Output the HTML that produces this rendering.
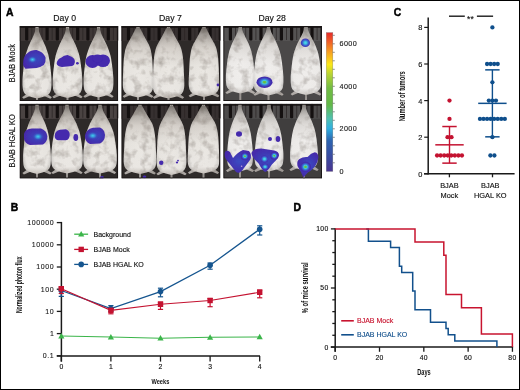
<!DOCTYPE html><html><head><meta charset="utf-8"><style>html,body{margin:0;padding:0;background:#fff}body{width:520px;height:390px;overflow:hidden}svg{display:block;will-change:transform}text{font-family:"Liberation Sans", sans-serif}</style></head><body>
<svg width="520" height="390" viewBox="0 0 520 390">
<defs>
<linearGradient id="cbar" x1="0" y1="1" x2="0" y2="0">
<stop offset="0" stop-color="#4a3590"/>
<stop offset="0.1" stop-color="#3b4aa0"/>
<stop offset="0.22" stop-color="#2d64b0"/>
<stop offset="0.31" stop-color="#30b0e0"/>
<stop offset="0.38" stop-color="#50c0b0"/>
<stop offset="0.48" stop-color="#62b848"/>
<stop offset="0.6" stop-color="#72bc44"/>
<stop offset="0.7" stop-color="#b8d435"/>
<stop offset="0.77" stop-color="#fbe818"/>
<stop offset="0.86" stop-color="#f7a022"/>
<stop offset="0.94" stop-color="#ef5a28"/>
<stop offset="1" stop-color="#e52a2a"/>
</linearGradient>
<linearGradient id="mouseg" x1="0" y1="0" x2="0" y2="1">
<stop offset="0" stop-color="#8f8983"/>
<stop offset="0.1" stop-color="#b0aaa4"/>
<stop offset="0.3" stop-color="#d8d3cd"/>
<stop offset="0.55" stop-color="#e9e6e1"/>
<stop offset="0.9" stop-color="#edeae6"/>
<stop offset="1" stop-color="#cac4be"/>
</linearGradient>
<linearGradient id="mouseg2" x1="0" y1="0" x2="0" y2="1">
<stop offset="0" stop-color="#9a9692"/>
<stop offset="0.1" stop-color="#bdb9b5"/>
<stop offset="0.3" stop-color="#e0ddda"/>
<stop offset="0.55" stop-color="#efedeb"/>
<stop offset="0.9" stop-color="#f1efed"/>
<stop offset="1" stop-color="#d0ccc8"/>
</linearGradient>
<radialGradient id="mouseedge" cx="0.5" cy="0.6" r="0.62">
<stop offset="0" stop-color="#000" stop-opacity="0"/>
<stop offset="0.7" stop-color="#000" stop-opacity="0.02"/>
<stop offset="1" stop-color="#000" stop-opacity="0.2"/>
</radialGradient>
<linearGradient id="stripes" x1="0" y1="0" x2="0" y2="1">
<stop offset="0" stop-color="#000" stop-opacity="0"/>
<stop offset="1" stop-color="#000" stop-opacity="0"/>
</linearGradient>
<radialGradient id="blobspot" cx="0.5" cy="0.5" r="0.5">
<stop offset="0" stop-color="#40d0e8"/>
<stop offset="0.22" stop-color="#3aa0e0"/>
<stop offset="0.55" stop-color="#3a50c0"/>
<stop offset="1" stop-color="#4429ad" stop-opacity="0"/>
</radialGradient>
<radialGradient id="bfill" cx="0.55" cy="0.5" r="0.55">
<stop offset="0" stop-color="#3a4cc2"/>
<stop offset="0.55" stop-color="#4038b4"/>
<stop offset="1" stop-color="#4629aa"/>
</radialGradient>
<radialGradient id="glow" cx="0.5" cy="0.5" r="0.5">
<stop offset="0" stop-color="#3660cc" stop-opacity="0.85"/>
<stop offset="0.6" stop-color="#3a50c0" stop-opacity="0.45"/>
<stop offset="1" stop-color="#4429ad" stop-opacity="0"/>
</radialGradient>
<radialGradient id="blob" cx="0.5" cy="0.5" r="0.5">
<stop offset="0" stop-color="#50e0e8"/>
<stop offset="0.3" stop-color="#40c0e0"/>
<stop offset="0.6" stop-color="#3a6ad0"/>
<stop offset="1" stop-color="#4429ad"/>
</radialGradient>
<radialGradient id="blobg" cx="0.5" cy="0.5" r="0.5">
<stop offset="0" stop-color="#5cb840"/>
<stop offset="0.18" stop-color="#6cc450"/>
<stop offset="0.3" stop-color="#40c8e0"/>
<stop offset="0.55" stop-color="#3a6ad0"/>
<stop offset="0.8" stop-color="#4030b0"/>
<stop offset="1" stop-color="#4429ad"/>
</radialGradient>
<filter id="soft" x="-5%" y="-5%" width="110%" height="110%"><feGaussianBlur stdDeviation="0.6"/></filter>
<filter id="tex" x="-5%" y="-5%" width="110%" height="110%" color-interpolation-filters="sRGB">
<feTurbulence type="fractalNoise" baseFrequency="0.12" numOctaves="3" seed="11" result="n"/>
<feColorMatrix in="n" type="matrix" values="0 0 0 0 0.32  0 0 0 0 0.28  0 0 0 0 0.25  0 0 0 -0.75 0.4" result="na"/>
<feComposite in="na" in2="SourceGraphic" operator="in" result="shade"/>
<feMerge result="m"><feMergeNode in="SourceGraphic"/><feMergeNode in="shade"/></feMerge>
<feGaussianBlur in="m" stdDeviation="0.55"/>
</filter>
<filter id="soft2" x="-10%" y="-10%" width="120%" height="120%"><feGaussianBlur stdDeviation="0.9"/></filter>
<clipPath id="c00"><rect x="19.6" y="26" width="98.6" height="75"/></clipPath>
<clipPath id="c10"><rect x="121.4" y="26" width="99" height="75"/></clipPath>
<clipPath id="c20"><rect x="223.3" y="26" width="98.7" height="75"/></clipPath>
<clipPath id="c01"><rect x="19.6" y="103.8" width="98.6" height="74.7"/></clipPath>
<clipPath id="c11"><rect x="121.4" y="103.8" width="99" height="74.7"/></clipPath>
<clipPath id="c21"><rect x="223.3" y="103.8" width="98.7" height="74.7"/></clipPath>
</defs>
<rect x="0.5" y="0.5" width="519" height="389" fill="#fff" stroke="#000" stroke-width="1"/>
<text x="5.90" y="15.60" font-size="10.40" text-anchor="start" fill="#000" font-weight="bold" stroke="#000" stroke-width="0.45" >A</text>
<text x="64.70" y="21.10" font-size="8.70" text-anchor="middle" fill="#111" font-weight="normal" stroke="#111" stroke-width="0.14" >Day 0</text>
<text x="170.40" y="21.10" font-size="8.70" text-anchor="middle" fill="#111" font-weight="normal" stroke="#111" stroke-width="0.14" >Day 7</text>
<text x="272.20" y="21.10" font-size="8.70" text-anchor="middle" fill="#111" font-weight="normal" stroke="#111" stroke-width="0.14" >Day 28</text>
<text transform="translate(15.0,63.2) rotate(-90) scale(0.9,1)" font-size="8.2" text-anchor="middle" fill="#111" stroke="#111" stroke-width="0.14">BJAB Mock</text>
<text transform="translate(15.0,140.9) rotate(-90) scale(0.9,1)" font-size="8.2" text-anchor="middle" fill="#111" stroke="#111" stroke-width="0.14">BJAB HGAL KO</text>
<g clip-path="url(#c00)">
<rect x="19.6" y="26.0" width="98.6" height="75.0" fill="#2e2a29"/>
<rect x="19.6" y="26.0" width="98.6" height="15" fill="#3e3736"/>
<rect x="25.1" y="26.0" width="3.2" height="14.5" rx="1" fill="#141010"/>
<rect x="31.3" y="26.0" width="1" height="14" fill="#2a2424" opacity="0.7"/>
<rect x="35.3" y="26.0" width="3.2" height="14.5" rx="1" fill="#141010"/>
<rect x="41.5" y="26.0" width="1" height="14" fill="#2a2424" opacity="0.7"/>
<rect x="45.5" y="26.0" width="3.2" height="14.5" rx="1" fill="#141010"/>
<rect x="51.7" y="26.0" width="1" height="14" fill="#2a2424" opacity="0.7"/>
<rect x="55.7" y="26.0" width="3.2" height="14.5" rx="1" fill="#141010"/>
<rect x="61.9" y="26.0" width="1" height="14" fill="#2a2424" opacity="0.7"/>
<rect x="65.9" y="26.0" width="3.2" height="14.5" rx="1" fill="#141010"/>
<rect x="72.1" y="26.0" width="1" height="14" fill="#2a2424" opacity="0.7"/>
<rect x="76.1" y="26.0" width="3.2" height="14.5" rx="1" fill="#141010"/>
<rect x="82.3" y="26.0" width="1" height="14" fill="#2a2424" opacity="0.7"/>
<rect x="86.3" y="26.0" width="3.2" height="14.5" rx="1" fill="#141010"/>
<rect x="92.5" y="26.0" width="1" height="14" fill="#2a2424" opacity="0.7"/>
<rect x="96.5" y="26.0" width="3.2" height="14.5" rx="1" fill="#141010"/>
<rect x="102.7" y="26.0" width="1" height="14" fill="#2a2424" opacity="0.7"/>
<rect x="106.7" y="26.0" width="3.2" height="14.5" rx="1" fill="#141010"/>
<rect x="112.9" y="26.0" width="1" height="14" fill="#2a2424" opacity="0.7"/>
<rect x="116.9" y="26.0" width="3.2" height="14.5" rx="1" fill="#141010"/>
<rect x="123.1" y="26.0" width="1" height="14" fill="#2a2424" opacity="0.7"/>
<rect x="19.6" y="26.0" width="98.6" height="2" fill="#141010" opacity="0.8"/>
<g filter="url(#tex)">
<rect x="35.4" y="26.0" width="3.2" height="6.0" fill="#aaa5a0"/>
<rect x="36.0" y="95.0" width="2" height="12" fill="#9a9592"/>
<path d="M29.1,92.2 l-7,5 l1.5,1.5 l7,-3 Z" fill="#b0aba7"/>
<path d="M44.9,92.2 l7,5 l-1.5,1.5 l-7,-3 Z" fill="#b0aba7"/>
<path d="M37.0,27.6 L37.1,27.8 L37.3,27.9 L37.6,28.1 L37.8,28.3 L38.1,28.6 L38.3,29.0 L38.5,29.4 L38.6,30.0 L38.8,30.6 L39.0,31.2 L39.1,31.8 L39.3,32.4 L39.5,32.9 L39.7,33.5 L39.9,34.0 L40.1,34.5 L40.3,35.1 L40.6,35.8 L41.0,36.6 L41.4,37.5 L41.8,38.4 L42.3,39.4 L42.8,40.3 L43.2,41.2 L43.6,42.1 L44.0,42.9 L44.3,43.7 L44.7,44.4 L45.0,45.2 L45.4,46.0 L45.7,46.8 L46.0,47.6 L46.3,48.4 L46.5,49.2 L46.8,50.0 L47.1,50.8 L47.3,51.5 L47.6,52.3 L47.8,53.1 L48.1,53.8 L48.3,54.6 L48.5,55.5 L48.7,56.4 L48.9,57.4 L49.1,58.4 L49.3,59.4 L49.5,60.5 L49.7,61.6 L49.9,62.9 L50.0,64.2 L50.2,65.6 L50.4,67.0 L50.5,68.4 L50.7,69.8 L50.8,71.2 L51.0,72.5 L51.1,73.9 L51.2,75.2 L51.3,76.6 L51.4,78.0 L51.5,79.4 L51.5,80.8 L51.5,82.2 L51.5,83.6 L51.5,84.9 L51.4,86.1 L51.3,87.2 L51.2,88.2 L51.1,89.1 L50.9,90.0 L50.7,90.8 L50.4,91.6 L50.1,92.3 L49.7,92.9 L49.3,93.5 L48.8,94.0 L48.3,94.5 L47.7,95.0 L46.9,95.4 L46.0,95.8 L45.0,96.2 L44.1,96.5 L43.3,96.8 L42.8,97.0 L37.0,98.5 L31.2,97.0 L30.7,96.8 L29.9,96.5 L29.0,96.2 L28.0,95.8 L27.1,95.4 L26.3,95.0 L25.7,94.5 L25.2,94.0 L24.7,93.5 L24.3,92.9 L23.9,92.3 L23.6,91.6 L23.3,90.8 L23.1,90.0 L22.9,89.1 L22.8,88.2 L22.7,87.2 L22.6,86.1 L22.5,84.9 L22.5,83.6 L22.5,82.2 L22.5,80.8 L22.5,79.4 L22.6,78.0 L22.7,76.6 L22.8,75.2 L22.9,73.9 L23.0,72.5 L23.2,71.2 L23.3,69.8 L23.5,68.4 L23.6,67.0 L23.8,65.6 L24.0,64.2 L24.1,62.9 L24.3,61.6 L24.5,60.5 L24.7,59.4 L24.9,58.4 L25.1,57.4 L25.3,56.4 L25.5,55.5 L25.7,54.6 L25.9,53.8 L26.2,53.1 L26.4,52.3 L26.7,51.5 L26.9,50.8 L27.2,50.0 L27.5,49.2 L27.7,48.4 L28.0,47.6 L28.3,46.8 L28.6,46.0 L29.0,45.2 L29.3,44.4 L29.7,43.7 L30.0,42.9 L30.4,42.1 L30.8,41.2 L31.2,40.3 L31.7,39.4 L32.2,38.4 L32.6,37.5 L33.0,36.6 L33.4,35.8 L33.7,35.1 L33.9,34.5 L34.1,34.0 L34.3,33.5 L34.5,32.9 L34.7,32.4 L34.9,31.8 L35.0,31.2 L35.2,30.6 L35.4,30.0 L35.5,29.4 L35.7,29.0 L35.9,28.6 L36.2,28.3 L36.4,28.1 L36.7,27.9 L36.9,27.8 L37.0,27.6Z" fill="url(#mouseg)"/>
<path d="M37.0,27.6 L37.1,27.8 L37.3,27.9 L37.6,28.1 L37.8,28.3 L38.1,28.6 L38.3,29.0 L38.5,29.4 L38.6,30.0 L38.8,30.6 L39.0,31.2 L39.1,31.8 L39.3,32.4 L39.5,32.9 L39.7,33.5 L39.9,34.0 L40.1,34.5 L40.3,35.1 L40.6,35.8 L41.0,36.6 L41.4,37.5 L41.8,38.4 L42.3,39.4 L42.8,40.3 L43.2,41.2 L43.6,42.1 L44.0,42.9 L44.3,43.7 L44.7,44.4 L45.0,45.2 L45.4,46.0 L45.7,46.8 L46.0,47.6 L46.3,48.4 L46.5,49.2 L46.8,50.0 L47.1,50.8 L47.3,51.5 L47.6,52.3 L47.8,53.1 L48.1,53.8 L48.3,54.6 L48.5,55.5 L48.7,56.4 L48.9,57.4 L49.1,58.4 L49.3,59.4 L49.5,60.5 L49.7,61.6 L49.9,62.9 L50.0,64.2 L50.2,65.6 L50.4,67.0 L50.5,68.4 L50.7,69.8 L50.8,71.2 L51.0,72.5 L51.1,73.9 L51.2,75.2 L51.3,76.6 L51.4,78.0 L51.5,79.4 L51.5,80.8 L51.5,82.2 L51.5,83.6 L51.5,84.9 L51.4,86.1 L51.3,87.2 L51.2,88.2 L51.1,89.1 L50.9,90.0 L50.7,90.8 L50.4,91.6 L50.1,92.3 L49.7,92.9 L49.3,93.5 L48.8,94.0 L48.3,94.5 L47.7,95.0 L46.9,95.4 L46.0,95.8 L45.0,96.2 L44.1,96.5 L43.3,96.8 L42.8,97.0 L37.0,98.5 L31.2,97.0 L30.7,96.8 L29.9,96.5 L29.0,96.2 L28.0,95.8 L27.1,95.4 L26.3,95.0 L25.7,94.5 L25.2,94.0 L24.7,93.5 L24.3,92.9 L23.9,92.3 L23.6,91.6 L23.3,90.8 L23.1,90.0 L22.9,89.1 L22.8,88.2 L22.7,87.2 L22.6,86.1 L22.5,84.9 L22.5,83.6 L22.5,82.2 L22.5,80.8 L22.5,79.4 L22.6,78.0 L22.7,76.6 L22.8,75.2 L22.9,73.9 L23.0,72.5 L23.2,71.2 L23.3,69.8 L23.5,68.4 L23.6,67.0 L23.8,65.6 L24.0,64.2 L24.1,62.9 L24.3,61.6 L24.5,60.5 L24.7,59.4 L24.9,58.4 L25.1,57.4 L25.3,56.4 L25.5,55.5 L25.7,54.6 L25.9,53.8 L26.2,53.1 L26.4,52.3 L26.7,51.5 L26.9,50.8 L27.2,50.0 L27.5,49.2 L27.7,48.4 L28.0,47.6 L28.3,46.8 L28.6,46.0 L29.0,45.2 L29.3,44.4 L29.7,43.7 L30.0,42.9 L30.4,42.1 L30.8,41.2 L31.2,40.3 L31.7,39.4 L32.2,38.4 L32.6,37.5 L33.0,36.6 L33.4,35.8 L33.7,35.1 L33.9,34.5 L34.1,34.0 L34.3,33.5 L34.5,32.9 L34.7,32.4 L34.9,31.8 L35.0,31.2 L35.2,30.6 L35.4,30.0 L35.5,29.4 L35.7,29.0 L35.9,28.6 L36.2,28.3 L36.4,28.1 L36.7,27.9 L36.9,27.8 L37.0,27.6Z" fill="url(#mouseedge)"/>
<rect x="65.9" y="26.0" width="3.2" height="6.0" fill="#aaa5a0"/>
<rect x="66.5" y="94.5" width="2" height="12" fill="#9a9592"/>
<path d="M59.4,91.8 l-7,5 l1.5,1.5 l7,-3 Z" fill="#b0aba7"/>
<path d="M75.6,91.8 l7,5 l-1.5,1.5 l-7,-3 Z" fill="#b0aba7"/>
<path d="M67.5,27.6 L67.6,27.8 L67.9,27.9 L68.1,28.1 L68.4,28.3 L68.6,28.6 L68.8,29.0 L69.0,29.4 L69.2,30.0 L69.3,30.6 L69.5,31.2 L69.7,31.8 L69.9,32.4 L70.0,32.9 L70.2,33.4 L70.4,33.9 L70.6,34.5 L70.9,35.1 L71.2,35.8 L71.5,36.5 L72.0,37.4 L72.4,38.4 L72.9,39.3 L73.4,40.3 L73.8,41.1 L74.2,42.0 L74.6,42.8 L75.0,43.6 L75.3,44.3 L75.7,45.1 L76.0,45.9 L76.3,46.7 L76.7,47.5 L77.0,48.2 L77.2,49.0 L77.5,49.8 L77.8,50.6 L78.1,51.4 L78.3,52.1 L78.6,52.9 L78.8,53.6 L79.0,54.5 L79.3,55.3 L79.5,56.2 L79.7,57.2 L79.9,58.2 L80.1,59.2 L80.3,60.3 L80.4,61.4 L80.6,62.6 L80.8,63.9 L81.0,65.3 L81.1,66.7 L81.3,68.1 L81.5,69.5 L81.6,70.8 L81.8,72.2 L81.9,73.5 L82.0,74.9 L82.1,76.2 L82.2,77.6 L82.3,79.0 L82.3,80.4 L82.3,81.8 L82.3,83.2 L82.3,84.5 L82.2,85.7 L82.1,86.8 L82.0,87.8 L81.9,88.7 L81.7,89.5 L81.5,90.3 L81.2,91.1 L80.8,91.8 L80.5,92.4 L80.0,93.0 L79.5,93.5 L79.0,94.0 L78.4,94.5 L77.6,94.9 L76.7,95.3 L75.7,95.7 L74.8,96.0 L73.9,96.3 L73.4,96.5 L67.5,98.0 L61.6,96.5 L61.1,96.3 L60.2,96.0 L59.3,95.7 L58.3,95.3 L57.4,94.9 L56.6,94.5 L56.0,94.0 L55.5,93.5 L55.0,93.0 L54.5,92.4 L54.2,91.8 L53.8,91.1 L53.5,90.3 L53.3,89.5 L53.1,88.7 L53.0,87.8 L52.9,86.8 L52.8,85.7 L52.7,84.5 L52.7,83.2 L52.7,81.8 L52.7,80.4 L52.7,79.0 L52.8,77.6 L52.9,76.2 L53.0,74.9 L53.1,73.5 L53.2,72.2 L53.4,70.8 L53.5,69.5 L53.7,68.1 L53.9,66.7 L54.0,65.3 L54.2,63.9 L54.4,62.6 L54.6,61.4 L54.7,60.3 L54.9,59.2 L55.1,58.2 L55.3,57.2 L55.5,56.2 L55.7,55.3 L56.0,54.5 L56.2,53.6 L56.4,52.9 L56.7,52.1 L56.9,51.4 L57.2,50.6 L57.5,49.8 L57.8,49.0 L58.0,48.2 L58.3,47.5 L58.7,46.7 L59.0,45.9 L59.3,45.1 L59.7,44.3 L60.0,43.6 L60.4,42.8 L60.8,42.0 L61.2,41.1 L61.6,40.3 L62.1,39.3 L62.6,38.4 L63.0,37.4 L63.5,36.5 L63.8,35.8 L64.1,35.1 L64.4,34.5 L64.6,33.9 L64.8,33.4 L65.0,32.9 L65.1,32.4 L65.3,31.8 L65.5,31.2 L65.7,30.6 L65.8,30.0 L66.0,29.4 L66.2,29.0 L66.4,28.6 L66.6,28.3 L66.9,28.1 L67.1,27.9 L67.4,27.8 L67.5,27.6Z" fill="url(#mouseg)"/>
<path d="M67.5,27.6 L67.6,27.8 L67.9,27.9 L68.1,28.1 L68.4,28.3 L68.6,28.6 L68.8,29.0 L69.0,29.4 L69.2,30.0 L69.3,30.6 L69.5,31.2 L69.7,31.8 L69.9,32.4 L70.0,32.9 L70.2,33.4 L70.4,33.9 L70.6,34.5 L70.9,35.1 L71.2,35.8 L71.5,36.5 L72.0,37.4 L72.4,38.4 L72.9,39.3 L73.4,40.3 L73.8,41.1 L74.2,42.0 L74.6,42.8 L75.0,43.6 L75.3,44.3 L75.7,45.1 L76.0,45.9 L76.3,46.7 L76.7,47.5 L77.0,48.2 L77.2,49.0 L77.5,49.8 L77.8,50.6 L78.1,51.4 L78.3,52.1 L78.6,52.9 L78.8,53.6 L79.0,54.5 L79.3,55.3 L79.5,56.2 L79.7,57.2 L79.9,58.2 L80.1,59.2 L80.3,60.3 L80.4,61.4 L80.6,62.6 L80.8,63.9 L81.0,65.3 L81.1,66.7 L81.3,68.1 L81.5,69.5 L81.6,70.8 L81.8,72.2 L81.9,73.5 L82.0,74.9 L82.1,76.2 L82.2,77.6 L82.3,79.0 L82.3,80.4 L82.3,81.8 L82.3,83.2 L82.3,84.5 L82.2,85.7 L82.1,86.8 L82.0,87.8 L81.9,88.7 L81.7,89.5 L81.5,90.3 L81.2,91.1 L80.8,91.8 L80.5,92.4 L80.0,93.0 L79.5,93.5 L79.0,94.0 L78.4,94.5 L77.6,94.9 L76.7,95.3 L75.7,95.7 L74.8,96.0 L73.9,96.3 L73.4,96.5 L67.5,98.0 L61.6,96.5 L61.1,96.3 L60.2,96.0 L59.3,95.7 L58.3,95.3 L57.4,94.9 L56.6,94.5 L56.0,94.0 L55.5,93.5 L55.0,93.0 L54.5,92.4 L54.2,91.8 L53.8,91.1 L53.5,90.3 L53.3,89.5 L53.1,88.7 L53.0,87.8 L52.9,86.8 L52.8,85.7 L52.7,84.5 L52.7,83.2 L52.7,81.8 L52.7,80.4 L52.7,79.0 L52.8,77.6 L52.9,76.2 L53.0,74.9 L53.1,73.5 L53.2,72.2 L53.4,70.8 L53.5,69.5 L53.7,68.1 L53.9,66.7 L54.0,65.3 L54.2,63.9 L54.4,62.6 L54.6,61.4 L54.7,60.3 L54.9,59.2 L55.1,58.2 L55.3,57.2 L55.5,56.2 L55.7,55.3 L56.0,54.5 L56.2,53.6 L56.4,52.9 L56.7,52.1 L56.9,51.4 L57.2,50.6 L57.5,49.8 L57.8,49.0 L58.0,48.2 L58.3,47.5 L58.7,46.7 L59.0,45.9 L59.3,45.1 L59.7,44.3 L60.0,43.6 L60.4,42.8 L60.8,42.0 L61.2,41.1 L61.6,40.3 L62.1,39.3 L62.6,38.4 L63.0,37.4 L63.5,36.5 L63.8,35.8 L64.1,35.1 L64.4,34.5 L64.6,33.9 L64.8,33.4 L65.0,32.9 L65.1,32.4 L65.3,31.8 L65.5,31.2 L65.7,30.6 L65.8,30.0 L66.0,29.4 L66.2,29.0 L66.4,28.6 L66.6,28.3 L66.9,28.1 L67.1,27.9 L67.4,27.8 L67.5,27.6Z" fill="url(#mouseedge)"/>
<rect x="96.9" y="26.0" width="3.2" height="6.0" fill="#aaa5a0"/>
<rect x="97.5" y="94.0" width="2" height="12" fill="#9a9592"/>
<path d="M90.4,91.3 l-7,5 l1.5,1.5 l7,-3 Z" fill="#b0aba7"/>
<path d="M106.6,91.3 l7,5 l-1.5,1.5 l-7,-3 Z" fill="#b0aba7"/>
<path d="M98.5,27.7 L98.6,27.8 L98.9,27.9 L99.1,28.1 L99.4,28.4 L99.6,28.6 L99.8,29.0 L100.0,29.4 L100.2,30.0 L100.3,30.5 L100.5,31.2 L100.7,31.8 L100.9,32.4 L101.1,32.9 L101.2,33.4 L101.4,33.9 L101.6,34.4 L101.9,35.0 L102.2,35.7 L102.6,36.5 L103.0,37.4 L103.5,38.3 L104.0,39.2 L104.4,40.2 L104.9,41.1 L105.3,41.9 L105.7,42.7 L106.0,43.4 L106.4,44.2 L106.7,45.0 L107.1,45.8 L107.4,46.5 L107.7,47.3 L108.0,48.1 L108.3,48.9 L108.6,49.7 L108.9,50.4 L109.1,51.2 L109.4,52.0 L109.6,52.7 L109.9,53.5 L110.1,54.3 L110.3,55.1 L110.6,56.0 L110.8,57.0 L111.0,57.9 L111.2,59.0 L111.3,60.0 L111.5,61.2 L111.7,62.4 L111.9,63.7 L112.1,65.1 L112.2,66.4 L112.4,67.8 L112.6,69.2 L112.7,70.5 L112.9,71.9 L113.0,73.2 L113.1,74.6 L113.2,75.9 L113.3,77.2 L113.4,78.6 L113.4,80.0 L113.4,81.4 L113.4,82.8 L113.4,84.1 L113.3,85.3 L113.2,86.4 L113.1,87.3 L113.0,88.3 L112.8,89.1 L112.6,89.9 L112.3,90.6 L111.9,91.3 L111.5,92.0 L111.1,92.5 L110.6,93.0 L110.1,93.5 L109.5,94.0 L108.7,94.4 L107.8,94.8 L106.8,95.2 L105.8,95.5 L105.0,95.8 L104.4,96.0 L98.5,97.5 L92.6,96.0 L92.0,95.8 L91.2,95.5 L90.2,95.2 L89.2,94.8 L88.3,94.4 L87.5,94.0 L86.9,93.5 L86.4,93.0 L85.9,92.5 L85.5,92.0 L85.1,91.3 L84.7,90.6 L84.4,89.9 L84.2,89.1 L84.0,88.3 L83.9,87.3 L83.8,86.4 L83.7,85.3 L83.6,84.1 L83.6,82.8 L83.6,81.4 L83.6,80.0 L83.6,78.6 L83.7,77.2 L83.8,75.9 L83.9,74.6 L84.0,73.2 L84.1,71.9 L84.3,70.5 L84.4,69.2 L84.6,67.8 L84.8,66.4 L84.9,65.1 L85.1,63.7 L85.3,62.4 L85.5,61.2 L85.7,60.0 L85.8,59.0 L86.0,57.9 L86.2,57.0 L86.4,56.0 L86.7,55.1 L86.9,54.3 L87.1,53.5 L87.4,52.7 L87.6,52.0 L87.9,51.2 L88.1,50.4 L88.4,49.7 L88.7,48.9 L89.0,48.1 L89.3,47.3 L89.6,46.5 L89.9,45.8 L90.3,45.0 L90.6,44.2 L91.0,43.4 L91.3,42.7 L91.7,41.9 L92.1,41.1 L92.6,40.2 L93.0,39.2 L93.5,38.3 L94.0,37.4 L94.4,36.5 L94.8,35.7 L95.1,35.0 L95.4,34.4 L95.6,33.9 L95.8,33.4 L95.9,32.9 L96.1,32.4 L96.3,31.8 L96.5,31.2 L96.7,30.5 L96.8,30.0 L97.0,29.4 L97.2,29.0 L97.4,28.6 L97.6,28.4 L97.9,28.1 L98.1,27.9 L98.4,27.8 L98.5,27.7Z" fill="url(#mouseg)"/>
<path d="M98.5,27.7 L98.6,27.8 L98.9,27.9 L99.1,28.1 L99.4,28.4 L99.6,28.6 L99.8,29.0 L100.0,29.4 L100.2,30.0 L100.3,30.5 L100.5,31.2 L100.7,31.8 L100.9,32.4 L101.1,32.9 L101.2,33.4 L101.4,33.9 L101.6,34.4 L101.9,35.0 L102.2,35.7 L102.6,36.5 L103.0,37.4 L103.5,38.3 L104.0,39.2 L104.4,40.2 L104.9,41.1 L105.3,41.9 L105.7,42.7 L106.0,43.4 L106.4,44.2 L106.7,45.0 L107.1,45.8 L107.4,46.5 L107.7,47.3 L108.0,48.1 L108.3,48.9 L108.6,49.7 L108.9,50.4 L109.1,51.2 L109.4,52.0 L109.6,52.7 L109.9,53.5 L110.1,54.3 L110.3,55.1 L110.6,56.0 L110.8,57.0 L111.0,57.9 L111.2,59.0 L111.3,60.0 L111.5,61.2 L111.7,62.4 L111.9,63.7 L112.1,65.1 L112.2,66.4 L112.4,67.8 L112.6,69.2 L112.7,70.5 L112.9,71.9 L113.0,73.2 L113.1,74.6 L113.2,75.9 L113.3,77.2 L113.4,78.6 L113.4,80.0 L113.4,81.4 L113.4,82.8 L113.4,84.1 L113.3,85.3 L113.2,86.4 L113.1,87.3 L113.0,88.3 L112.8,89.1 L112.6,89.9 L112.3,90.6 L111.9,91.3 L111.5,92.0 L111.1,92.5 L110.6,93.0 L110.1,93.5 L109.5,94.0 L108.7,94.4 L107.8,94.8 L106.8,95.2 L105.8,95.5 L105.0,95.8 L104.4,96.0 L98.5,97.5 L92.6,96.0 L92.0,95.8 L91.2,95.5 L90.2,95.2 L89.2,94.8 L88.3,94.4 L87.5,94.0 L86.9,93.5 L86.4,93.0 L85.9,92.5 L85.5,92.0 L85.1,91.3 L84.7,90.6 L84.4,89.9 L84.2,89.1 L84.0,88.3 L83.9,87.3 L83.8,86.4 L83.7,85.3 L83.6,84.1 L83.6,82.8 L83.6,81.4 L83.6,80.0 L83.6,78.6 L83.7,77.2 L83.8,75.9 L83.9,74.6 L84.0,73.2 L84.1,71.9 L84.3,70.5 L84.4,69.2 L84.6,67.8 L84.8,66.4 L84.9,65.1 L85.1,63.7 L85.3,62.4 L85.5,61.2 L85.7,60.0 L85.8,59.0 L86.0,57.9 L86.2,57.0 L86.4,56.0 L86.7,55.1 L86.9,54.3 L87.1,53.5 L87.4,52.7 L87.6,52.0 L87.9,51.2 L88.1,50.4 L88.4,49.7 L88.7,48.9 L89.0,48.1 L89.3,47.3 L89.6,46.5 L89.9,45.8 L90.3,45.0 L90.6,44.2 L91.0,43.4 L91.3,42.7 L91.7,41.9 L92.1,41.1 L92.6,40.2 L93.0,39.2 L93.5,38.3 L94.0,37.4 L94.4,36.5 L94.8,35.7 L95.1,35.0 L95.4,34.4 L95.6,33.9 L95.8,33.4 L95.9,32.9 L96.1,32.4 L96.3,31.8 L96.5,31.2 L96.7,30.5 L96.8,30.0 L97.0,29.4 L97.2,29.0 L97.4,28.6 L97.6,28.4 L97.9,28.1 L98.1,27.9 L98.4,27.8 L98.5,27.7Z" fill="url(#mouseedge)"/>
</g>
<g filter="url(#soft)">
<path d="M27.3,53.2 Q31,50 36.5,50.1 L40.1,51.4 Q44,53 45.6,57.8 Q46,62 43.8,65.1 Q40,67.8 36.5,67.9 L25.5,68.8 Q22.5,66 23.3,61.5 Q23.5,56 27.3,53.2 Z" fill="url(#bfill)"/>
<ellipse cx="32.5" cy="59.6" rx="6.0" ry="4.5" fill="url(#blobspot)"/>
<path d="M56.6,63.3 Q57.5,59 61.1,57.8 Q64,55 67.5,55 L72.1,56.9 Q75.5,59 74.8,62.4 Q74.5,65 72.1,66 L62,67 Q57,66.5 56.6,63.3 Z" fill="#4429ad"/>
<ellipse cx="77.4" cy="63.3" rx="1.4" ry="1.2" fill="#4429ad"/>
<ellipse cx="92.5" cy="61.5" rx="7.0" ry="6.5" fill="#4429ad"/>
<ellipse cx="103.0" cy="60.7" rx="7.0" ry="6.3" fill="#4429ad"/>
<ellipse cx="97.5" cy="58.5" rx="5.0" ry="4.0" fill="#4429ad"/>
</g>
<rect x="20.1" y="26.5" width="97.6" height="74.0" fill="none" stroke="#1a1616" stroke-width="1"/>
</g>
<g clip-path="url(#c10)">
<rect x="121.4" y="26.0" width="99.0" height="75.0" fill="#2e2a29"/>
<rect x="121.4" y="26.0" width="99.0" height="15" fill="#363030"/>
<rect x="126.9" y="26.0" width="3.2" height="14.5" rx="1" fill="#141010"/>
<rect x="133.1" y="26.0" width="1" height="14" fill="#2a2424" opacity="0.7"/>
<rect x="137.1" y="26.0" width="3.2" height="14.5" rx="1" fill="#141010"/>
<rect x="143.3" y="26.0" width="1" height="14" fill="#2a2424" opacity="0.7"/>
<rect x="147.3" y="26.0" width="3.2" height="14.5" rx="1" fill="#141010"/>
<rect x="153.5" y="26.0" width="1" height="14" fill="#2a2424" opacity="0.7"/>
<rect x="157.5" y="26.0" width="3.2" height="14.5" rx="1" fill="#141010"/>
<rect x="163.7" y="26.0" width="1" height="14" fill="#2a2424" opacity="0.7"/>
<rect x="167.7" y="26.0" width="3.2" height="14.5" rx="1" fill="#141010"/>
<rect x="173.9" y="26.0" width="1" height="14" fill="#2a2424" opacity="0.7"/>
<rect x="177.9" y="26.0" width="3.2" height="14.5" rx="1" fill="#141010"/>
<rect x="184.1" y="26.0" width="1" height="14" fill="#2a2424" opacity="0.7"/>
<rect x="188.1" y="26.0" width="3.2" height="14.5" rx="1" fill="#141010"/>
<rect x="194.3" y="26.0" width="1" height="14" fill="#2a2424" opacity="0.7"/>
<rect x="198.3" y="26.0" width="3.2" height="14.5" rx="1" fill="#141010"/>
<rect x="204.5" y="26.0" width="1" height="14" fill="#2a2424" opacity="0.7"/>
<rect x="208.5" y="26.0" width="3.2" height="14.5" rx="1" fill="#141010"/>
<rect x="214.7" y="26.0" width="1" height="14" fill="#2a2424" opacity="0.7"/>
<rect x="218.7" y="26.0" width="3.2" height="14.5" rx="1" fill="#141010"/>
<rect x="224.9" y="26.0" width="1" height="14" fill="#2a2424" opacity="0.7"/>
<rect x="121.4" y="26.0" width="99.0" height="2" fill="#141010" opacity="0.8"/>
<g filter="url(#tex)">
<rect x="136.4" y="26.0" width="3.2" height="5.5" fill="#aaa5a0"/>
<rect x="137.0" y="94.0" width="2" height="12" fill="#9a9592"/>
<path d="M129.6,91.3 l-7,5 l1.5,1.5 l7,-3 Z" fill="#b0aba7"/>
<path d="M146.4,91.3 l7,5 l-1.5,1.5 l-7,-3 Z" fill="#b0aba7"/>
<path d="M138.0,27.1 L138.2,27.3 L138.6,27.4 L139.0,27.7 L139.4,27.9 L139.8,28.2 L140.1,28.5 L140.4,28.8 L140.6,29.2 L140.9,29.6 L141.1,30.1 L141.3,30.6 L141.6,31.2 L142.0,31.9 L142.5,32.8 L142.9,33.7 L143.4,34.7 L143.9,35.7 L144.4,36.6 L144.9,37.5 L145.4,38.4 L145.9,39.3 L146.4,40.2 L146.9,41.1 L147.4,42.0 L147.9,42.9 L148.4,43.7 L148.8,44.6 L149.2,45.5 L149.6,46.4 L150.0,47.4 L150.3,48.4 L150.6,49.5 L150.9,50.6 L151.1,51.8 L151.3,52.9 L151.5,54.1 L151.7,55.4 L151.9,56.7 L152.1,58.0 L152.2,59.3 L152.3,60.8 L152.4,62.2 L152.5,63.9 L152.6,65.6 L152.7,67.4 L152.8,69.2 L152.8,70.9 L152.9,72.4 L153.0,73.7 L153.0,74.9 L153.1,76.0 L153.1,77.0 L153.2,78.0 L153.2,79.1 L153.2,80.3 L153.3,81.5 L153.3,82.6 L153.3,83.8 L153.3,84.9 L153.2,85.9 L153.1,86.8 L153.0,87.6 L152.8,88.4 L152.7,89.2 L152.4,89.9 L152.1,90.6 L151.8,91.3 L151.4,91.9 L150.9,92.5 L150.4,93.0 L149.9,93.5 L149.2,94.0 L148.5,94.4 L147.5,94.8 L146.5,95.2 L145.5,95.5 L144.7,95.8 L144.1,96.0 L138.0,97.5 L131.9,96.0 L131.3,95.8 L130.5,95.5 L129.5,95.2 L128.5,94.8 L127.5,94.4 L126.8,94.0 L126.1,93.5 L125.6,93.0 L125.1,92.5 L124.6,91.9 L124.2,91.3 L123.9,90.6 L123.6,89.9 L123.3,89.2 L123.2,88.4 L123.0,87.6 L122.9,86.8 L122.8,85.9 L122.7,84.9 L122.7,83.8 L122.7,82.6 L122.7,81.5 L122.8,80.3 L122.8,79.1 L122.8,78.0 L122.9,77.0 L122.9,76.0 L123.0,74.9 L123.0,73.7 L123.1,72.4 L123.2,70.9 L123.2,69.2 L123.3,67.4 L123.4,65.6 L123.5,63.9 L123.6,62.2 L123.7,60.8 L123.8,59.3 L123.9,58.0 L124.1,56.7 L124.3,55.4 L124.5,54.1 L124.7,52.9 L124.9,51.8 L125.1,50.6 L125.4,49.5 L125.7,48.4 L126.0,47.4 L126.4,46.4 L126.8,45.5 L127.2,44.6 L127.6,43.7 L128.1,42.9 L128.6,42.0 L129.1,41.1 L129.6,40.2 L130.1,39.3 L130.6,38.4 L131.1,37.5 L131.6,36.6 L132.1,35.7 L132.6,34.7 L133.1,33.7 L133.5,32.8 L134.0,31.9 L134.4,31.2 L134.7,30.6 L134.9,30.1 L135.1,29.6 L135.4,29.2 L135.6,28.8 L135.9,28.5 L136.2,28.2 L136.6,27.9 L137.0,27.7 L137.4,27.4 L137.8,27.3 L138.0,27.1Z" fill="url(#mouseg)"/>
<path d="M138.0,27.1 L138.2,27.3 L138.6,27.4 L139.0,27.7 L139.4,27.9 L139.8,28.2 L140.1,28.5 L140.4,28.8 L140.6,29.2 L140.9,29.6 L141.1,30.1 L141.3,30.6 L141.6,31.2 L142.0,31.9 L142.5,32.8 L142.9,33.7 L143.4,34.7 L143.9,35.7 L144.4,36.6 L144.9,37.5 L145.4,38.4 L145.9,39.3 L146.4,40.2 L146.9,41.1 L147.4,42.0 L147.9,42.9 L148.4,43.7 L148.8,44.6 L149.2,45.5 L149.6,46.4 L150.0,47.4 L150.3,48.4 L150.6,49.5 L150.9,50.6 L151.1,51.8 L151.3,52.9 L151.5,54.1 L151.7,55.4 L151.9,56.7 L152.1,58.0 L152.2,59.3 L152.3,60.8 L152.4,62.2 L152.5,63.9 L152.6,65.6 L152.7,67.4 L152.8,69.2 L152.8,70.9 L152.9,72.4 L153.0,73.7 L153.0,74.9 L153.1,76.0 L153.1,77.0 L153.2,78.0 L153.2,79.1 L153.2,80.3 L153.3,81.5 L153.3,82.6 L153.3,83.8 L153.3,84.9 L153.2,85.9 L153.1,86.8 L153.0,87.6 L152.8,88.4 L152.7,89.2 L152.4,89.9 L152.1,90.6 L151.8,91.3 L151.4,91.9 L150.9,92.5 L150.4,93.0 L149.9,93.5 L149.2,94.0 L148.5,94.4 L147.5,94.8 L146.5,95.2 L145.5,95.5 L144.7,95.8 L144.1,96.0 L138.0,97.5 L131.9,96.0 L131.3,95.8 L130.5,95.5 L129.5,95.2 L128.5,94.8 L127.5,94.4 L126.8,94.0 L126.1,93.5 L125.6,93.0 L125.1,92.5 L124.6,91.9 L124.2,91.3 L123.9,90.6 L123.6,89.9 L123.3,89.2 L123.2,88.4 L123.0,87.6 L122.9,86.8 L122.8,85.9 L122.7,84.9 L122.7,83.8 L122.7,82.6 L122.7,81.5 L122.8,80.3 L122.8,79.1 L122.8,78.0 L122.9,77.0 L122.9,76.0 L123.0,74.9 L123.0,73.7 L123.1,72.4 L123.2,70.9 L123.2,69.2 L123.3,67.4 L123.4,65.6 L123.5,63.9 L123.6,62.2 L123.7,60.8 L123.8,59.3 L123.9,58.0 L124.1,56.7 L124.3,55.4 L124.5,54.1 L124.7,52.9 L124.9,51.8 L125.1,50.6 L125.4,49.5 L125.7,48.4 L126.0,47.4 L126.4,46.4 L126.8,45.5 L127.2,44.6 L127.6,43.7 L128.1,42.9 L128.6,42.0 L129.1,41.1 L129.6,40.2 L130.1,39.3 L130.6,38.4 L131.1,37.5 L131.6,36.6 L132.1,35.7 L132.6,34.7 L133.1,33.7 L133.5,32.8 L134.0,31.9 L134.4,31.2 L134.7,30.6 L134.9,30.1 L135.1,29.6 L135.4,29.2 L135.6,28.8 L135.9,28.5 L136.2,28.2 L136.6,27.9 L137.0,27.7 L137.4,27.4 L137.8,27.3 L138.0,27.1Z" fill="url(#mouseedge)"/>
<rect x="166.9" y="26.0" width="3.2" height="5.5" fill="#aaa5a0"/>
<rect x="167.5" y="95.0" width="2" height="12" fill="#9a9592"/>
<path d="M159.9,92.2 l-7,5 l1.5,1.5 l7,-3 Z" fill="#b0aba7"/>
<path d="M177.1,92.2 l7,5 l-1.5,1.5 l-7,-3 Z" fill="#b0aba7"/>
<path d="M168.5,27.1 L168.7,27.3 L169.1,27.4 L169.5,27.6 L169.9,27.9 L170.3,28.2 L170.7,28.5 L171.0,28.8 L171.2,29.2 L171.4,29.6 L171.7,30.1 L171.9,30.6 L172.3,31.2 L172.7,32.0 L173.1,32.9 L173.6,33.8 L174.1,34.8 L174.6,35.8 L175.1,36.7 L175.6,37.6 L176.1,38.5 L176.7,39.5 L177.2,40.4 L177.7,41.3 L178.2,42.2 L178.7,43.1 L179.2,44.0 L179.7,44.9 L180.1,45.8 L180.5,46.7 L180.9,47.7 L181.2,48.7 L181.5,49.8 L181.8,50.9 L182.0,52.1 L182.3,53.3 L182.5,54.5 L182.7,55.8 L182.9,57.1 L183.0,58.4 L183.2,59.8 L183.3,61.2 L183.4,62.8 L183.5,64.4 L183.6,66.1 L183.7,68.0 L183.8,69.8 L183.8,71.5 L183.9,73.0 L184.0,74.4 L184.0,75.6 L184.1,76.7 L184.1,77.7 L184.2,78.8 L184.2,79.9 L184.2,81.0 L184.3,82.2 L184.3,83.4 L184.3,84.6 L184.3,85.7 L184.2,86.7 L184.1,87.7 L184.0,88.5 L183.8,89.3 L183.6,90.1 L183.4,90.8 L183.1,91.5 L182.7,92.2 L182.3,92.8 L181.9,93.4 L181.4,94.0 L180.8,94.5 L180.1,94.9 L179.3,95.4 L178.3,95.8 L177.3,96.2 L176.3,96.5 L175.4,96.8 L174.8,97.0 L168.5,98.5 L162.2,97.0 L161.6,96.8 L160.7,96.5 L159.7,96.2 L158.7,95.8 L157.7,95.4 L156.9,94.9 L156.2,94.5 L155.6,94.0 L155.1,93.4 L154.7,92.8 L154.3,92.2 L153.9,91.5 L153.6,90.8 L153.4,90.1 L153.2,89.3 L153.0,88.5 L152.9,87.7 L152.8,86.7 L152.7,85.7 L152.7,84.6 L152.7,83.4 L152.7,82.2 L152.8,81.0 L152.8,79.9 L152.8,78.8 L152.9,77.7 L152.9,76.7 L153.0,75.6 L153.0,74.4 L153.1,73.0 L153.2,71.5 L153.2,69.8 L153.3,68.0 L153.4,66.1 L153.5,64.4 L153.6,62.8 L153.7,61.2 L153.8,59.8 L154.0,58.4 L154.1,57.1 L154.3,55.8 L154.5,54.5 L154.7,53.3 L155.0,52.1 L155.2,50.9 L155.5,49.8 L155.8,48.7 L156.1,47.7 L156.5,46.7 L156.9,45.8 L157.3,44.9 L157.8,44.0 L158.3,43.1 L158.8,42.2 L159.3,41.3 L159.8,40.4 L160.3,39.5 L160.9,38.5 L161.4,37.6 L161.9,36.7 L162.4,35.8 L162.9,34.8 L163.4,33.8 L163.9,32.9 L164.3,32.0 L164.7,31.2 L165.1,30.6 L165.3,30.1 L165.6,29.6 L165.8,29.2 L166.0,28.8 L166.3,28.5 L166.7,28.2 L167.1,27.9 L167.5,27.6 L167.9,27.4 L168.3,27.3 L168.5,27.1Z" fill="url(#mouseg)"/>
<path d="M168.5,27.1 L168.7,27.3 L169.1,27.4 L169.5,27.6 L169.9,27.9 L170.3,28.2 L170.7,28.5 L171.0,28.8 L171.2,29.2 L171.4,29.6 L171.7,30.1 L171.9,30.6 L172.3,31.2 L172.7,32.0 L173.1,32.9 L173.6,33.8 L174.1,34.8 L174.6,35.8 L175.1,36.7 L175.6,37.6 L176.1,38.5 L176.7,39.5 L177.2,40.4 L177.7,41.3 L178.2,42.2 L178.7,43.1 L179.2,44.0 L179.7,44.9 L180.1,45.8 L180.5,46.7 L180.9,47.7 L181.2,48.7 L181.5,49.8 L181.8,50.9 L182.0,52.1 L182.3,53.3 L182.5,54.5 L182.7,55.8 L182.9,57.1 L183.0,58.4 L183.2,59.8 L183.3,61.2 L183.4,62.8 L183.5,64.4 L183.6,66.1 L183.7,68.0 L183.8,69.8 L183.8,71.5 L183.9,73.0 L184.0,74.4 L184.0,75.6 L184.1,76.7 L184.1,77.7 L184.2,78.8 L184.2,79.9 L184.2,81.0 L184.3,82.2 L184.3,83.4 L184.3,84.6 L184.3,85.7 L184.2,86.7 L184.1,87.7 L184.0,88.5 L183.8,89.3 L183.6,90.1 L183.4,90.8 L183.1,91.5 L182.7,92.2 L182.3,92.8 L181.9,93.4 L181.4,94.0 L180.8,94.5 L180.1,94.9 L179.3,95.4 L178.3,95.8 L177.3,96.2 L176.3,96.5 L175.4,96.8 L174.8,97.0 L168.5,98.5 L162.2,97.0 L161.6,96.8 L160.7,96.5 L159.7,96.2 L158.7,95.8 L157.7,95.4 L156.9,94.9 L156.2,94.5 L155.6,94.0 L155.1,93.4 L154.7,92.8 L154.3,92.2 L153.9,91.5 L153.6,90.8 L153.4,90.1 L153.2,89.3 L153.0,88.5 L152.9,87.7 L152.8,86.7 L152.7,85.7 L152.7,84.6 L152.7,83.4 L152.7,82.2 L152.8,81.0 L152.8,79.9 L152.8,78.8 L152.9,77.7 L152.9,76.7 L153.0,75.6 L153.0,74.4 L153.1,73.0 L153.2,71.5 L153.2,69.8 L153.3,68.0 L153.4,66.1 L153.5,64.4 L153.6,62.8 L153.7,61.2 L153.8,59.8 L154.0,58.4 L154.1,57.1 L154.3,55.8 L154.5,54.5 L154.7,53.3 L155.0,52.1 L155.2,50.9 L155.5,49.8 L155.8,48.7 L156.1,47.7 L156.5,46.7 L156.9,45.8 L157.3,44.9 L157.8,44.0 L158.3,43.1 L158.8,42.2 L159.3,41.3 L159.8,40.4 L160.3,39.5 L160.9,38.5 L161.4,37.6 L161.9,36.7 L162.4,35.8 L162.9,34.8 L163.4,33.8 L163.9,32.9 L164.3,32.0 L164.7,31.2 L165.1,30.6 L165.3,30.1 L165.6,29.6 L165.8,29.2 L166.0,28.8 L166.3,28.5 L166.7,28.2 L167.1,27.9 L167.5,27.6 L167.9,27.4 L168.3,27.3 L168.5,27.1Z" fill="url(#mouseedge)"/>
<rect x="202.4" y="26.0" width="3.2" height="5.5" fill="#aaa5a0"/>
<rect x="203.0" y="93.5" width="2" height="12" fill="#9a9592"/>
<path d="M195.6,90.8 l-7,5 l1.5,1.5 l7,-3 Z" fill="#b0aba7"/>
<path d="M212.4,90.8 l7,5 l-1.5,1.5 l-7,-3 Z" fill="#b0aba7"/>
<path d="M204.0,27.2 L204.2,27.3 L204.6,27.5 L205.0,27.7 L205.4,27.9 L205.8,28.2 L206.1,28.5 L206.4,28.8 L206.6,29.2 L206.9,29.6 L207.1,30.0 L207.3,30.6 L207.6,31.2 L208.0,31.9 L208.5,32.8 L208.9,33.7 L209.4,34.7 L209.9,35.6 L210.4,36.5 L210.9,37.4 L211.4,38.3 L211.9,39.2 L212.4,40.1 L212.9,41.0 L213.4,41.9 L213.9,42.8 L214.4,43.6 L214.8,44.5 L215.2,45.4 L215.6,46.3 L216.0,47.3 L216.3,48.3 L216.6,49.3 L216.9,50.4 L217.1,51.6 L217.3,52.8 L217.5,54.0 L217.7,55.2 L217.9,56.5 L218.1,57.8 L218.2,59.1 L218.3,60.5 L218.4,62.0 L218.5,63.6 L218.6,65.3 L218.7,67.1 L218.8,68.9 L218.8,70.5 L218.9,72.1 L219.0,73.4 L219.0,74.5 L219.1,75.6 L219.1,76.6 L219.2,77.7 L219.2,78.8 L219.2,79.9 L219.3,81.1 L219.3,82.2 L219.3,83.4 L219.3,84.4 L219.2,85.4 L219.1,86.4 L219.0,87.2 L218.8,88.0 L218.7,88.8 L218.4,89.5 L218.1,90.1 L217.8,90.8 L217.4,91.4 L216.9,92.0 L216.4,92.5 L215.9,93.0 L215.2,93.5 L214.5,93.9 L213.5,94.3 L212.5,94.7 L211.5,95.0 L210.7,95.3 L210.1,95.5 L204.0,97.0 L197.9,95.5 L197.3,95.3 L196.5,95.0 L195.5,94.7 L194.5,94.3 L193.5,93.9 L192.8,93.5 L192.1,93.0 L191.6,92.5 L191.1,92.0 L190.6,91.4 L190.2,90.8 L189.9,90.1 L189.6,89.5 L189.3,88.8 L189.2,88.0 L189.0,87.2 L188.9,86.4 L188.8,85.4 L188.7,84.4 L188.7,83.4 L188.7,82.2 L188.7,81.1 L188.8,79.9 L188.8,78.8 L188.8,77.7 L188.9,76.6 L188.9,75.6 L189.0,74.5 L189.0,73.4 L189.1,72.1 L189.2,70.5 L189.2,68.9 L189.3,67.1 L189.4,65.3 L189.5,63.6 L189.6,62.0 L189.7,60.5 L189.8,59.1 L189.9,57.8 L190.1,56.5 L190.3,55.2 L190.5,54.0 L190.7,52.8 L190.9,51.6 L191.1,50.4 L191.4,49.3 L191.7,48.3 L192.0,47.3 L192.4,46.3 L192.8,45.4 L193.2,44.5 L193.6,43.6 L194.1,42.8 L194.6,41.9 L195.1,41.0 L195.6,40.1 L196.1,39.2 L196.6,38.3 L197.1,37.4 L197.6,36.5 L198.1,35.6 L198.6,34.7 L199.1,33.7 L199.5,32.8 L200.0,31.9 L200.4,31.2 L200.7,30.6 L200.9,30.0 L201.1,29.6 L201.4,29.2 L201.6,28.8 L201.9,28.5 L202.2,28.2 L202.6,27.9 L203.0,27.7 L203.4,27.5 L203.8,27.3 L204.0,27.2Z" fill="url(#mouseg)"/>
<path d="M204.0,27.2 L204.2,27.3 L204.6,27.5 L205.0,27.7 L205.4,27.9 L205.8,28.2 L206.1,28.5 L206.4,28.8 L206.6,29.2 L206.9,29.6 L207.1,30.0 L207.3,30.6 L207.6,31.2 L208.0,31.9 L208.5,32.8 L208.9,33.7 L209.4,34.7 L209.9,35.6 L210.4,36.5 L210.9,37.4 L211.4,38.3 L211.9,39.2 L212.4,40.1 L212.9,41.0 L213.4,41.9 L213.9,42.8 L214.4,43.6 L214.8,44.5 L215.2,45.4 L215.6,46.3 L216.0,47.3 L216.3,48.3 L216.6,49.3 L216.9,50.4 L217.1,51.6 L217.3,52.8 L217.5,54.0 L217.7,55.2 L217.9,56.5 L218.1,57.8 L218.2,59.1 L218.3,60.5 L218.4,62.0 L218.5,63.6 L218.6,65.3 L218.7,67.1 L218.8,68.9 L218.8,70.5 L218.9,72.1 L219.0,73.4 L219.0,74.5 L219.1,75.6 L219.1,76.6 L219.2,77.7 L219.2,78.8 L219.2,79.9 L219.3,81.1 L219.3,82.2 L219.3,83.4 L219.3,84.4 L219.2,85.4 L219.1,86.4 L219.0,87.2 L218.8,88.0 L218.7,88.8 L218.4,89.5 L218.1,90.1 L217.8,90.8 L217.4,91.4 L216.9,92.0 L216.4,92.5 L215.9,93.0 L215.2,93.5 L214.5,93.9 L213.5,94.3 L212.5,94.7 L211.5,95.0 L210.7,95.3 L210.1,95.5 L204.0,97.0 L197.9,95.5 L197.3,95.3 L196.5,95.0 L195.5,94.7 L194.5,94.3 L193.5,93.9 L192.8,93.5 L192.1,93.0 L191.6,92.5 L191.1,92.0 L190.6,91.4 L190.2,90.8 L189.9,90.1 L189.6,89.5 L189.3,88.8 L189.2,88.0 L189.0,87.2 L188.9,86.4 L188.8,85.4 L188.7,84.4 L188.7,83.4 L188.7,82.2 L188.7,81.1 L188.8,79.9 L188.8,78.8 L188.8,77.7 L188.9,76.6 L188.9,75.6 L189.0,74.5 L189.0,73.4 L189.1,72.1 L189.2,70.5 L189.2,68.9 L189.3,67.1 L189.4,65.3 L189.5,63.6 L189.6,62.0 L189.7,60.5 L189.8,59.1 L189.9,57.8 L190.1,56.5 L190.3,55.2 L190.5,54.0 L190.7,52.8 L190.9,51.6 L191.1,50.4 L191.4,49.3 L191.7,48.3 L192.0,47.3 L192.4,46.3 L192.8,45.4 L193.2,44.5 L193.6,43.6 L194.1,42.8 L194.6,41.9 L195.1,41.0 L195.6,40.1 L196.1,39.2 L196.6,38.3 L197.1,37.4 L197.6,36.5 L198.1,35.6 L198.6,34.7 L199.1,33.7 L199.5,32.8 L200.0,31.9 L200.4,31.2 L200.7,30.6 L200.9,30.0 L201.1,29.6 L201.4,29.2 L201.6,28.8 L201.9,28.5 L202.2,28.2 L202.6,27.9 L203.0,27.7 L203.4,27.5 L203.8,27.3 L204.0,27.2Z" fill="url(#mouseedge)"/>
</g>
<g filter="url(#soft)">
<ellipse cx="218.0" cy="85.0" rx="1.4" ry="1.4" fill="#4429ad"/>
</g>
<rect x="121.9" y="26.5" width="98.0" height="74.0" fill="none" stroke="#1a1616" stroke-width="1"/>
</g>
<g clip-path="url(#c20)">
<rect x="223.3" y="26.0" width="98.7" height="75.0" fill="#4a4848"/>
<rect x="223.3" y="26.0" width="98.7" height="15" fill="#555353"/>
<rect x="228.8" y="26.0" width="3.2" height="14.5" rx="1" fill="#141010"/>
<rect x="235.0" y="26.0" width="1" height="14" fill="#2a2424" opacity="0.7"/>
<rect x="239.0" y="26.0" width="3.2" height="14.5" rx="1" fill="#141010"/>
<rect x="245.2" y="26.0" width="1" height="14" fill="#2a2424" opacity="0.7"/>
<rect x="249.2" y="26.0" width="3.2" height="14.5" rx="1" fill="#141010"/>
<rect x="255.4" y="26.0" width="1" height="14" fill="#2a2424" opacity="0.7"/>
<rect x="259.4" y="26.0" width="3.2" height="14.5" rx="1" fill="#141010"/>
<rect x="265.6" y="26.0" width="1" height="14" fill="#2a2424" opacity="0.7"/>
<rect x="269.6" y="26.0" width="3.2" height="14.5" rx="1" fill="#141010"/>
<rect x="275.8" y="26.0" width="1" height="14" fill="#2a2424" opacity="0.7"/>
<rect x="279.8" y="26.0" width="3.2" height="14.5" rx="1" fill="#141010"/>
<rect x="286.0" y="26.0" width="1" height="14" fill="#2a2424" opacity="0.7"/>
<rect x="290.0" y="26.0" width="3.2" height="14.5" rx="1" fill="#141010"/>
<rect x="296.2" y="26.0" width="1" height="14" fill="#2a2424" opacity="0.7"/>
<rect x="300.2" y="26.0" width="3.2" height="14.5" rx="1" fill="#141010"/>
<rect x="306.4" y="26.0" width="1" height="14" fill="#2a2424" opacity="0.7"/>
<rect x="310.4" y="26.0" width="3.2" height="14.5" rx="1" fill="#141010"/>
<rect x="316.6" y="26.0" width="1" height="14" fill="#2a2424" opacity="0.7"/>
<rect x="320.6" y="26.0" width="3.2" height="14.5" rx="1" fill="#141010"/>
<rect x="326.8" y="26.0" width="1" height="14" fill="#2a2424" opacity="0.7"/>
<rect x="223.3" y="26.0" width="98.7" height="2" fill="#141010" opacity="0.8"/>
<g filter="url(#tex)">
<rect x="238.7" y="26.0" width="3.2" height="4.5" fill="#aaa5a0"/>
<rect x="239.3" y="90.0" width="2" height="12" fill="#9a9592"/>
<path d="M232.4,87.5 l-7,5 l1.5,1.5 l7,-3 Z" fill="#b0aba7"/>
<path d="M248.2,87.5 l7,5 l-1.5,1.5 l-7,-3 Z" fill="#b0aba7"/>
<path d="M240.3,26.2 L240.4,26.3 L240.6,26.5 L240.9,26.7 L241.1,26.9 L241.4,27.2 L241.6,27.5 L241.8,27.9 L241.9,28.4 L242.1,29.0 L242.2,29.6 L242.4,30.2 L242.6,30.7 L242.8,31.2 L242.9,31.7 L243.1,32.2 L243.3,32.7 L243.6,33.3 L243.9,34.0 L244.2,34.7 L244.7,35.6 L245.1,36.4 L245.6,37.4 L246.0,38.3 L246.4,39.1 L246.8,39.9 L247.2,40.7 L247.6,41.4 L247.9,42.1 L248.3,42.9 L248.6,43.6 L248.9,44.4 L249.2,45.1 L249.5,45.9 L249.8,46.6 L250.0,47.4 L250.3,48.1 L250.6,48.9 L250.8,49.6 L251.1,50.3 L251.3,51.1 L251.5,51.8 L251.7,52.7 L251.9,53.5 L252.1,54.4 L252.3,55.4 L252.5,56.3 L252.7,57.4 L252.9,58.5 L253.1,59.6 L253.2,60.9 L253.4,62.2 L253.6,63.5 L253.7,64.9 L253.9,66.2 L254.0,67.5 L254.2,68.8 L254.3,70.1 L254.4,71.4 L254.5,72.7 L254.6,73.9 L254.7,75.3 L254.7,76.6 L254.7,78.0 L254.7,79.3 L254.7,80.5 L254.6,81.7 L254.5,82.7 L254.4,83.7 L254.3,84.5 L254.1,85.4 L253.9,86.1 L253.6,86.8 L253.3,87.5 L252.9,88.1 L252.5,88.7 L252.0,89.2 L251.5,89.6 L250.9,90.1 L250.1,90.5 L249.2,90.9 L248.3,91.2 L247.4,91.5 L246.6,91.8 L246.0,92.0 L240.3,93.5 L234.6,92.0 L234.0,91.8 L233.2,91.5 L232.3,91.2 L231.4,90.9 L230.5,90.5 L229.7,90.1 L229.1,89.6 L228.6,89.2 L228.1,88.7 L227.7,88.1 L227.3,87.5 L227.0,86.8 L226.7,86.1 L226.5,85.4 L226.3,84.5 L226.2,83.7 L226.1,82.7 L226.0,81.7 L225.9,80.5 L225.9,79.3 L225.9,78.0 L225.9,76.6 L225.9,75.3 L226.0,73.9 L226.1,72.7 L226.2,71.4 L226.3,70.1 L226.4,68.8 L226.6,67.5 L226.7,66.2 L226.9,64.9 L227.0,63.5 L227.2,62.2 L227.4,60.9 L227.5,59.6 L227.7,58.5 L227.9,57.4 L228.1,56.3 L228.3,55.4 L228.5,54.4 L228.7,53.5 L228.9,52.7 L229.1,51.8 L229.3,51.1 L229.5,50.3 L229.8,49.6 L230.0,48.9 L230.3,48.1 L230.6,47.4 L230.8,46.6 L231.1,45.9 L231.4,45.1 L231.7,44.4 L232.0,43.6 L232.3,42.9 L232.7,42.1 L233.0,41.4 L233.4,40.7 L233.8,39.9 L234.2,39.1 L234.6,38.3 L235.0,37.4 L235.5,36.4 L235.9,35.6 L236.4,34.7 L236.7,34.0 L237.0,33.3 L237.3,32.7 L237.5,32.2 L237.7,31.7 L237.8,31.2 L238.0,30.7 L238.2,30.2 L238.4,29.6 L238.5,29.0 L238.7,28.4 L238.8,27.9 L239.0,27.5 L239.2,27.2 L239.5,26.9 L239.7,26.7 L240.0,26.5 L240.2,26.3 L240.3,26.2Z" fill="url(#mouseg2)"/>
<path d="M240.3,26.2 L240.4,26.3 L240.6,26.5 L240.9,26.7 L241.1,26.9 L241.4,27.2 L241.6,27.5 L241.8,27.9 L241.9,28.4 L242.1,29.0 L242.2,29.6 L242.4,30.2 L242.6,30.7 L242.8,31.2 L242.9,31.7 L243.1,32.2 L243.3,32.7 L243.6,33.3 L243.9,34.0 L244.2,34.7 L244.7,35.6 L245.1,36.4 L245.6,37.4 L246.0,38.3 L246.4,39.1 L246.8,39.9 L247.2,40.7 L247.6,41.4 L247.9,42.1 L248.3,42.9 L248.6,43.6 L248.9,44.4 L249.2,45.1 L249.5,45.9 L249.8,46.6 L250.0,47.4 L250.3,48.1 L250.6,48.9 L250.8,49.6 L251.1,50.3 L251.3,51.1 L251.5,51.8 L251.7,52.7 L251.9,53.5 L252.1,54.4 L252.3,55.4 L252.5,56.3 L252.7,57.4 L252.9,58.5 L253.1,59.6 L253.2,60.9 L253.4,62.2 L253.6,63.5 L253.7,64.9 L253.9,66.2 L254.0,67.5 L254.2,68.8 L254.3,70.1 L254.4,71.4 L254.5,72.7 L254.6,73.9 L254.7,75.3 L254.7,76.6 L254.7,78.0 L254.7,79.3 L254.7,80.5 L254.6,81.7 L254.5,82.7 L254.4,83.7 L254.3,84.5 L254.1,85.4 L253.9,86.1 L253.6,86.8 L253.3,87.5 L252.9,88.1 L252.5,88.7 L252.0,89.2 L251.5,89.6 L250.9,90.1 L250.1,90.5 L249.2,90.9 L248.3,91.2 L247.4,91.5 L246.6,91.8 L246.0,92.0 L240.3,93.5 L234.6,92.0 L234.0,91.8 L233.2,91.5 L232.3,91.2 L231.4,90.9 L230.5,90.5 L229.7,90.1 L229.1,89.6 L228.6,89.2 L228.1,88.7 L227.7,88.1 L227.3,87.5 L227.0,86.8 L226.7,86.1 L226.5,85.4 L226.3,84.5 L226.2,83.7 L226.1,82.7 L226.0,81.7 L225.9,80.5 L225.9,79.3 L225.9,78.0 L225.9,76.6 L225.9,75.3 L226.0,73.9 L226.1,72.7 L226.2,71.4 L226.3,70.1 L226.4,68.8 L226.6,67.5 L226.7,66.2 L226.9,64.9 L227.0,63.5 L227.2,62.2 L227.4,60.9 L227.5,59.6 L227.7,58.5 L227.9,57.4 L228.1,56.3 L228.3,55.4 L228.5,54.4 L228.7,53.5 L228.9,52.7 L229.1,51.8 L229.3,51.1 L229.5,50.3 L229.8,49.6 L230.0,48.9 L230.3,48.1 L230.6,47.4 L230.8,46.6 L231.1,45.9 L231.4,45.1 L231.7,44.4 L232.0,43.6 L232.3,42.9 L232.7,42.1 L233.0,41.4 L233.4,40.7 L233.8,39.9 L234.2,39.1 L234.6,38.3 L235.0,37.4 L235.5,36.4 L235.9,35.6 L236.4,34.7 L236.7,34.0 L237.0,33.3 L237.3,32.7 L237.5,32.2 L237.7,31.7 L237.8,31.2 L238.0,30.7 L238.2,30.2 L238.4,29.6 L238.5,29.0 L238.7,28.4 L238.8,27.9 L239.0,27.5 L239.2,27.2 L239.5,26.9 L239.7,26.7 L240.0,26.5 L240.2,26.3 L240.3,26.2Z" fill="url(#mouseedge)"/>
<rect x="266.9" y="26.0" width="3.2" height="4.5" fill="#aaa5a0"/>
<rect x="267.5" y="92.0" width="2" height="12" fill="#9a9592"/>
<path d="M260.4,89.3 l-7,5 l1.5,1.5 l7,-3 Z" fill="#b0aba7"/>
<path d="M276.6,89.3 l7,5 l-1.5,1.5 l-7,-3 Z" fill="#b0aba7"/>
<path d="M268.5,26.2 L268.6,26.3 L268.9,26.4 L269.1,26.6 L269.4,26.9 L269.6,27.1 L269.8,27.5 L270.0,27.9 L270.2,28.5 L270.3,29.0 L270.5,29.6 L270.7,30.2 L270.9,30.8 L271.1,31.4 L271.2,31.9 L271.4,32.4 L271.6,32.9 L271.9,33.5 L272.2,34.1 L272.6,34.9 L273.0,35.8 L273.5,36.7 L274.0,37.7 L274.4,38.6 L274.9,39.5 L275.3,40.3 L275.7,41.1 L276.0,41.8 L276.4,42.6 L276.7,43.4 L277.1,44.1 L277.4,44.9 L277.7,45.7 L278.0,46.5 L278.3,47.2 L278.6,48.0 L278.9,48.8 L279.1,49.5 L279.4,50.3 L279.6,51.0 L279.9,51.8 L280.1,52.6 L280.3,53.4 L280.6,54.3 L280.8,55.3 L281.0,56.2 L281.2,57.2 L281.3,58.3 L281.5,59.4 L281.7,60.6 L281.9,61.9 L282.1,63.3 L282.2,64.7 L282.4,66.0 L282.6,67.4 L282.7,68.7 L282.9,70.1 L283.0,71.4 L283.1,72.7 L283.2,74.1 L283.3,75.4 L283.4,76.7 L283.4,78.1 L283.4,79.5 L283.4,80.9 L283.4,82.2 L283.3,83.4 L283.2,84.4 L283.1,85.4 L283.0,86.3 L282.8,87.2 L282.6,87.9 L282.3,88.7 L281.9,89.4 L281.5,90.0 L281.1,90.6 L280.6,91.1 L280.1,91.6 L279.5,92.0 L278.7,92.4 L277.8,92.8 L276.8,93.2 L275.8,93.5 L275.0,93.8 L274.4,94.0 L268.5,95.5 L262.6,94.0 L262.0,93.8 L261.2,93.5 L260.2,93.2 L259.2,92.8 L258.3,92.4 L257.5,92.0 L256.9,91.6 L256.4,91.1 L255.9,90.6 L255.5,90.0 L255.1,89.4 L254.7,88.7 L254.4,87.9 L254.2,87.2 L254.0,86.3 L253.9,85.4 L253.8,84.4 L253.7,83.4 L253.6,82.2 L253.6,80.9 L253.6,79.5 L253.6,78.1 L253.6,76.7 L253.7,75.4 L253.8,74.1 L253.9,72.7 L254.0,71.4 L254.1,70.1 L254.3,68.7 L254.4,67.4 L254.6,66.0 L254.8,64.7 L254.9,63.3 L255.1,61.9 L255.3,60.6 L255.5,59.4 L255.7,58.3 L255.8,57.2 L256.0,56.2 L256.2,55.3 L256.4,54.3 L256.7,53.4 L256.9,52.6 L257.1,51.8 L257.4,51.0 L257.6,50.3 L257.9,49.5 L258.1,48.8 L258.4,48.0 L258.7,47.2 L259.0,46.5 L259.3,45.7 L259.6,44.9 L259.9,44.1 L260.3,43.4 L260.6,42.6 L261.0,41.8 L261.3,41.1 L261.7,40.3 L262.1,39.5 L262.6,38.6 L263.0,37.7 L263.5,36.7 L264.0,35.8 L264.4,34.9 L264.8,34.1 L265.1,33.5 L265.4,32.9 L265.6,32.4 L265.8,31.9 L265.9,31.4 L266.1,30.8 L266.3,30.2 L266.5,29.6 L266.7,29.0 L266.8,28.5 L267.0,27.9 L267.2,27.5 L267.4,27.1 L267.6,26.9 L267.9,26.6 L268.1,26.4 L268.4,26.3 L268.5,26.2Z" fill="url(#mouseg2)"/>
<path d="M268.5,26.2 L268.6,26.3 L268.9,26.4 L269.1,26.6 L269.4,26.9 L269.6,27.1 L269.8,27.5 L270.0,27.9 L270.2,28.5 L270.3,29.0 L270.5,29.6 L270.7,30.2 L270.9,30.8 L271.1,31.4 L271.2,31.9 L271.4,32.4 L271.6,32.9 L271.9,33.5 L272.2,34.1 L272.6,34.9 L273.0,35.8 L273.5,36.7 L274.0,37.7 L274.4,38.6 L274.9,39.5 L275.3,40.3 L275.7,41.1 L276.0,41.8 L276.4,42.6 L276.7,43.4 L277.1,44.1 L277.4,44.9 L277.7,45.7 L278.0,46.5 L278.3,47.2 L278.6,48.0 L278.9,48.8 L279.1,49.5 L279.4,50.3 L279.6,51.0 L279.9,51.8 L280.1,52.6 L280.3,53.4 L280.6,54.3 L280.8,55.3 L281.0,56.2 L281.2,57.2 L281.3,58.3 L281.5,59.4 L281.7,60.6 L281.9,61.9 L282.1,63.3 L282.2,64.7 L282.4,66.0 L282.6,67.4 L282.7,68.7 L282.9,70.1 L283.0,71.4 L283.1,72.7 L283.2,74.1 L283.3,75.4 L283.4,76.7 L283.4,78.1 L283.4,79.5 L283.4,80.9 L283.4,82.2 L283.3,83.4 L283.2,84.4 L283.1,85.4 L283.0,86.3 L282.8,87.2 L282.6,87.9 L282.3,88.7 L281.9,89.4 L281.5,90.0 L281.1,90.6 L280.6,91.1 L280.1,91.6 L279.5,92.0 L278.7,92.4 L277.8,92.8 L276.8,93.2 L275.8,93.5 L275.0,93.8 L274.4,94.0 L268.5,95.5 L262.6,94.0 L262.0,93.8 L261.2,93.5 L260.2,93.2 L259.2,92.8 L258.3,92.4 L257.5,92.0 L256.9,91.6 L256.4,91.1 L255.9,90.6 L255.5,90.0 L255.1,89.4 L254.7,88.7 L254.4,87.9 L254.2,87.2 L254.0,86.3 L253.9,85.4 L253.8,84.4 L253.7,83.4 L253.6,82.2 L253.6,80.9 L253.6,79.5 L253.6,78.1 L253.6,76.7 L253.7,75.4 L253.8,74.1 L253.9,72.7 L254.0,71.4 L254.1,70.1 L254.3,68.7 L254.4,67.4 L254.6,66.0 L254.8,64.7 L254.9,63.3 L255.1,61.9 L255.3,60.6 L255.5,59.4 L255.7,58.3 L255.8,57.2 L256.0,56.2 L256.2,55.3 L256.4,54.3 L256.7,53.4 L256.9,52.6 L257.1,51.8 L257.4,51.0 L257.6,50.3 L257.9,49.5 L258.1,48.8 L258.4,48.0 L258.7,47.2 L259.0,46.5 L259.3,45.7 L259.6,44.9 L259.9,44.1 L260.3,43.4 L260.6,42.6 L261.0,41.8 L261.3,41.1 L261.7,40.3 L262.1,39.5 L262.6,38.6 L263.0,37.7 L263.5,36.7 L264.0,35.8 L264.4,34.9 L264.8,34.1 L265.1,33.5 L265.4,32.9 L265.6,32.4 L265.8,31.9 L265.9,31.4 L266.1,30.8 L266.3,30.2 L266.5,29.6 L266.7,29.0 L266.8,28.5 L267.0,27.9 L267.2,27.5 L267.4,27.1 L267.6,26.9 L267.9,26.6 L268.1,26.4 L268.4,26.3 L268.5,26.2Z" fill="url(#mouseedge)"/>
<rect x="304.4" y="26.0" width="3.2" height="4.5" fill="#aaa5a0"/>
<rect x="305.0" y="91.5" width="2" height="12" fill="#9a9592"/>
<path d="M297.6,88.9 l-7,5 l1.5,1.5 l7,-3 Z" fill="#b0aba7"/>
<path d="M314.4,88.9 l7,5 l-1.5,1.5 l-7,-3 Z" fill="#b0aba7"/>
<path d="M306.0,26.2 L306.2,26.3 L306.4,26.4 L306.6,26.6 L306.9,26.9 L307.1,27.2 L307.4,27.5 L307.6,27.9 L307.7,28.5 L307.9,29.0 L308.1,29.6 L308.2,30.2 L308.4,30.8 L308.6,31.3 L308.8,31.8 L309.0,32.3 L309.2,32.9 L309.5,33.4 L309.8,34.1 L310.2,34.9 L310.6,35.7 L311.1,36.7 L311.6,37.6 L312.1,38.5 L312.5,39.4 L312.9,40.2 L313.3,41.0 L313.7,41.7 L314.1,42.5 L314.5,43.2 L314.8,44.0 L315.1,44.8 L315.5,45.5 L315.8,46.3 L316.1,47.1 L316.4,47.9 L316.6,48.6 L316.9,49.4 L317.2,50.1 L317.4,50.8 L317.7,51.6 L317.9,52.4 L318.2,53.2 L318.4,54.1 L318.6,55.0 L318.8,56.0 L319.0,57.0 L319.2,58.1 L319.4,59.2 L319.6,60.4 L319.8,61.7 L319.9,63.0 L320.1,64.4 L320.3,65.8 L320.4,67.1 L320.6,68.4 L320.7,69.7 L320.9,71.1 L321.0,72.4 L321.1,73.7 L321.2,75.0 L321.3,76.4 L321.3,77.8 L321.3,79.1 L321.3,80.5 L321.3,81.8 L321.2,82.9 L321.1,84.0 L321.0,85.0 L320.8,85.9 L320.7,86.7 L320.4,87.5 L320.1,88.2 L319.8,88.9 L319.4,89.5 L318.9,90.1 L318.4,90.6 L317.9,91.1 L317.2,91.5 L316.5,91.9 L315.5,92.4 L314.5,92.7 L313.5,93.0 L312.7,93.3 L312.1,93.5 L306.0,95.0 L299.9,93.5 L299.3,93.3 L298.5,93.0 L297.5,92.7 L296.5,92.4 L295.5,91.9 L294.8,91.5 L294.1,91.1 L293.6,90.6 L293.1,90.1 L292.6,89.5 L292.2,88.9 L291.9,88.2 L291.6,87.5 L291.3,86.7 L291.2,85.9 L291.0,85.0 L290.9,84.0 L290.8,82.9 L290.7,81.8 L290.7,80.5 L290.7,79.1 L290.7,77.8 L290.7,76.4 L290.8,75.0 L290.9,73.7 L291.0,72.4 L291.1,71.1 L291.3,69.7 L291.4,68.4 L291.6,67.1 L291.7,65.8 L291.9,64.4 L292.1,63.0 L292.2,61.7 L292.4,60.4 L292.6,59.2 L292.8,58.1 L293.0,57.0 L293.2,56.0 L293.4,55.0 L293.6,54.1 L293.8,53.2 L294.1,52.4 L294.3,51.6 L294.6,50.8 L294.8,50.1 L295.1,49.4 L295.4,48.6 L295.6,47.9 L295.9,47.1 L296.2,46.3 L296.5,45.5 L296.9,44.8 L297.2,44.0 L297.5,43.2 L297.9,42.5 L298.3,41.7 L298.7,41.0 L299.1,40.2 L299.5,39.4 L299.9,38.5 L300.4,37.6 L300.9,36.7 L301.4,35.7 L301.8,34.9 L302.2,34.1 L302.5,33.4 L302.8,32.9 L303.0,32.3 L303.2,31.8 L303.4,31.3 L303.6,30.8 L303.8,30.2 L303.9,29.6 L304.1,29.0 L304.3,28.5 L304.4,27.9 L304.6,27.5 L304.9,27.2 L305.1,26.9 L305.4,26.6 L305.6,26.4 L305.8,26.3 L306.0,26.2Z" fill="url(#mouseg2)"/>
<path d="M306.0,26.2 L306.2,26.3 L306.4,26.4 L306.6,26.6 L306.9,26.9 L307.1,27.2 L307.4,27.5 L307.6,27.9 L307.7,28.5 L307.9,29.0 L308.1,29.6 L308.2,30.2 L308.4,30.8 L308.6,31.3 L308.8,31.8 L309.0,32.3 L309.2,32.9 L309.5,33.4 L309.8,34.1 L310.2,34.9 L310.6,35.7 L311.1,36.7 L311.6,37.6 L312.1,38.5 L312.5,39.4 L312.9,40.2 L313.3,41.0 L313.7,41.7 L314.1,42.5 L314.5,43.2 L314.8,44.0 L315.1,44.8 L315.5,45.5 L315.8,46.3 L316.1,47.1 L316.4,47.9 L316.6,48.6 L316.9,49.4 L317.2,50.1 L317.4,50.8 L317.7,51.6 L317.9,52.4 L318.2,53.2 L318.4,54.1 L318.6,55.0 L318.8,56.0 L319.0,57.0 L319.2,58.1 L319.4,59.2 L319.6,60.4 L319.8,61.7 L319.9,63.0 L320.1,64.4 L320.3,65.8 L320.4,67.1 L320.6,68.4 L320.7,69.7 L320.9,71.1 L321.0,72.4 L321.1,73.7 L321.2,75.0 L321.3,76.4 L321.3,77.8 L321.3,79.1 L321.3,80.5 L321.3,81.8 L321.2,82.9 L321.1,84.0 L321.0,85.0 L320.8,85.9 L320.7,86.7 L320.4,87.5 L320.1,88.2 L319.8,88.9 L319.4,89.5 L318.9,90.1 L318.4,90.6 L317.9,91.1 L317.2,91.5 L316.5,91.9 L315.5,92.4 L314.5,92.7 L313.5,93.0 L312.7,93.3 L312.1,93.5 L306.0,95.0 L299.9,93.5 L299.3,93.3 L298.5,93.0 L297.5,92.7 L296.5,92.4 L295.5,91.9 L294.8,91.5 L294.1,91.1 L293.6,90.6 L293.1,90.1 L292.6,89.5 L292.2,88.9 L291.9,88.2 L291.6,87.5 L291.3,86.7 L291.2,85.9 L291.0,85.0 L290.9,84.0 L290.8,82.9 L290.7,81.8 L290.7,80.5 L290.7,79.1 L290.7,77.8 L290.7,76.4 L290.8,75.0 L290.9,73.7 L291.0,72.4 L291.1,71.1 L291.3,69.7 L291.4,68.4 L291.6,67.1 L291.7,65.8 L291.9,64.4 L292.1,63.0 L292.2,61.7 L292.4,60.4 L292.6,59.2 L292.8,58.1 L293.0,57.0 L293.2,56.0 L293.4,55.0 L293.6,54.1 L293.8,53.2 L294.1,52.4 L294.3,51.6 L294.6,50.8 L294.8,50.1 L295.1,49.4 L295.4,48.6 L295.6,47.9 L295.9,47.1 L296.2,46.3 L296.5,45.5 L296.9,44.8 L297.2,44.0 L297.5,43.2 L297.9,42.5 L298.3,41.7 L298.7,41.0 L299.1,40.2 L299.5,39.4 L299.9,38.5 L300.4,37.6 L300.9,36.7 L301.4,35.7 L301.8,34.9 L302.2,34.1 L302.5,33.4 L302.8,32.9 L303.0,32.3 L303.2,31.8 L303.4,31.3 L303.6,30.8 L303.8,30.2 L303.9,29.6 L304.1,29.0 L304.3,28.5 L304.4,27.9 L304.6,27.5 L304.9,27.2 L305.1,26.9 L305.4,26.6 L305.6,26.4 L305.8,26.3 L306.0,26.2Z" fill="url(#mouseedge)"/>
</g>
<g filter="url(#soft)">
<ellipse cx="264.5" cy="82.2" rx="8.0" ry="5.8" fill="url(#blobg)"/>
<ellipse cx="305.4" cy="42.8" rx="4.6" ry="4.3" fill="url(#blob)"/>
</g>
<rect x="223.8" y="26.5" width="97.7" height="74.0" fill="none" stroke="#1a1616" stroke-width="1"/>
</g>
<g clip-path="url(#c01)">
<rect x="19.6" y="103.8" width="98.6" height="74.7" fill="#2e2a29"/>
<rect x="19.6" y="103.8" width="98.6" height="15" fill="#4a4342"/>
<rect x="25.1" y="103.8" width="3.2" height="14.5" rx="1" fill="#141010"/>
<rect x="31.3" y="103.8" width="1" height="14" fill="#2a2424" opacity="0.7"/>
<rect x="35.3" y="103.8" width="3.2" height="14.5" rx="1" fill="#141010"/>
<rect x="41.5" y="103.8" width="1" height="14" fill="#2a2424" opacity="0.7"/>
<rect x="45.5" y="103.8" width="3.2" height="14.5" rx="1" fill="#141010"/>
<rect x="51.7" y="103.8" width="1" height="14" fill="#2a2424" opacity="0.7"/>
<rect x="55.7" y="103.8" width="3.2" height="14.5" rx="1" fill="#141010"/>
<rect x="61.9" y="103.8" width="1" height="14" fill="#2a2424" opacity="0.7"/>
<rect x="65.9" y="103.8" width="3.2" height="14.5" rx="1" fill="#141010"/>
<rect x="72.1" y="103.8" width="1" height="14" fill="#2a2424" opacity="0.7"/>
<rect x="76.1" y="103.8" width="3.2" height="14.5" rx="1" fill="#141010"/>
<rect x="82.3" y="103.8" width="1" height="14" fill="#2a2424" opacity="0.7"/>
<rect x="86.3" y="103.8" width="3.2" height="14.5" rx="1" fill="#141010"/>
<rect x="92.5" y="103.8" width="1" height="14" fill="#2a2424" opacity="0.7"/>
<rect x="96.5" y="103.8" width="3.2" height="14.5" rx="1" fill="#141010"/>
<rect x="102.7" y="103.8" width="1" height="14" fill="#2a2424" opacity="0.7"/>
<rect x="106.7" y="103.8" width="3.2" height="14.5" rx="1" fill="#141010"/>
<rect x="112.9" y="103.8" width="1" height="14" fill="#2a2424" opacity="0.7"/>
<rect x="116.9" y="103.8" width="3.2" height="14.5" rx="1" fill="#141010"/>
<rect x="123.1" y="103.8" width="1" height="14" fill="#2a2424" opacity="0.7"/>
<rect x="19.6" y="103.8" width="98.6" height="2" fill="#141010" opacity="0.8"/>
<g filter="url(#tex)">
<rect x="35.4" y="103.8" width="3.2" height="5.7" fill="#aaa5a0"/>
<rect x="36.0" y="170.5" width="2" height="12" fill="#9a9592"/>
<path d="M29.4,167.9 l-7,5 l1.5,1.5 l7,-3 Z" fill="#b0aba7"/>
<path d="M44.6,167.9 l7,5 l-1.5,1.5 l-7,-3 Z" fill="#b0aba7"/>
<path d="M37.0,105.2 L37.1,105.3 L37.3,105.4 L37.6,105.6 L37.8,105.9 L38.0,106.2 L38.2,106.5 L38.4,106.9 L38.6,107.5 L38.7,108.0 L38.9,108.6 L39.0,109.2 L39.2,109.8 L39.4,110.3 L39.6,110.8 L39.7,111.3 L39.9,111.9 L40.2,112.4 L40.5,113.1 L40.8,113.9 L41.2,114.7 L41.6,115.7 L42.1,116.6 L42.5,117.5 L42.9,118.4 L43.3,119.2 L43.7,120.0 L44.0,120.7 L44.4,121.5 L44.7,122.2 L45.0,123.0 L45.3,123.8 L45.6,124.5 L45.9,125.3 L46.1,126.1 L46.4,126.9 L46.7,127.6 L46.9,128.4 L47.2,129.1 L47.4,129.8 L47.6,130.6 L47.8,131.4 L48.0,132.2 L48.2,133.1 L48.4,134.0 L48.6,135.0 L48.8,136.0 L49.0,137.1 L49.1,138.2 L49.3,139.4 L49.5,140.7 L49.7,142.0 L49.8,143.4 L50.0,144.8 L50.1,146.1 L50.2,147.4 L50.4,148.7 L50.5,150.1 L50.6,151.4 L50.7,152.7 L50.8,154.0 L50.9,155.4 L50.9,156.8 L50.9,158.1 L50.9,159.5 L50.9,160.8 L50.8,161.9 L50.7,163.0 L50.6,164.0 L50.5,164.9 L50.3,165.7 L50.1,166.5 L49.8,167.2 L49.5,167.9 L49.2,168.5 L48.8,169.1 L48.3,169.6 L47.8,170.1 L47.2,170.5 L46.5,170.9 L45.6,171.4 L44.7,171.7 L43.8,172.0 L43.1,172.3 L42.5,172.5 L37.0,174.0 L31.5,172.5 L30.9,172.3 L30.2,172.0 L29.3,171.7 L28.4,171.4 L27.5,170.9 L26.8,170.5 L26.2,170.1 L25.7,169.6 L25.2,169.1 L24.8,168.5 L24.5,167.9 L24.2,167.2 L23.9,166.5 L23.7,165.7 L23.5,164.9 L23.4,164.0 L23.3,163.0 L23.2,161.9 L23.1,160.8 L23.1,159.5 L23.1,158.1 L23.1,156.8 L23.1,155.4 L23.2,154.0 L23.3,152.7 L23.4,151.4 L23.5,150.1 L23.6,148.7 L23.8,147.4 L23.9,146.1 L24.0,144.8 L24.2,143.4 L24.3,142.0 L24.5,140.7 L24.7,139.4 L24.9,138.2 L25.0,137.1 L25.2,136.0 L25.4,135.0 L25.6,134.0 L25.8,133.1 L26.0,132.2 L26.2,131.4 L26.4,130.6 L26.6,129.8 L26.8,129.1 L27.1,128.4 L27.3,127.6 L27.6,126.9 L27.9,126.1 L28.1,125.3 L28.4,124.5 L28.7,123.8 L29.0,123.0 L29.3,122.2 L29.6,121.5 L30.0,120.7 L30.3,120.0 L30.7,119.2 L31.1,118.4 L31.5,117.5 L31.9,116.6 L32.4,115.7 L32.8,114.7 L33.2,113.9 L33.5,113.1 L33.8,112.4 L34.1,111.9 L34.3,111.3 L34.4,110.8 L34.6,110.3 L34.8,109.8 L35.0,109.2 L35.1,108.6 L35.3,108.0 L35.4,107.5 L35.6,106.9 L35.8,106.5 L36.0,106.2 L36.2,105.9 L36.4,105.6 L36.7,105.4 L36.9,105.3 L37.0,105.2Z" fill="url(#mouseg)"/>
<path d="M37.0,105.2 L37.1,105.3 L37.3,105.4 L37.6,105.6 L37.8,105.9 L38.0,106.2 L38.2,106.5 L38.4,106.9 L38.6,107.5 L38.7,108.0 L38.9,108.6 L39.0,109.2 L39.2,109.8 L39.4,110.3 L39.6,110.8 L39.7,111.3 L39.9,111.9 L40.2,112.4 L40.5,113.1 L40.8,113.9 L41.2,114.7 L41.6,115.7 L42.1,116.6 L42.5,117.5 L42.9,118.4 L43.3,119.2 L43.7,120.0 L44.0,120.7 L44.4,121.5 L44.7,122.2 L45.0,123.0 L45.3,123.8 L45.6,124.5 L45.9,125.3 L46.1,126.1 L46.4,126.9 L46.7,127.6 L46.9,128.4 L47.2,129.1 L47.4,129.8 L47.6,130.6 L47.8,131.4 L48.0,132.2 L48.2,133.1 L48.4,134.0 L48.6,135.0 L48.8,136.0 L49.0,137.1 L49.1,138.2 L49.3,139.4 L49.5,140.7 L49.7,142.0 L49.8,143.4 L50.0,144.8 L50.1,146.1 L50.2,147.4 L50.4,148.7 L50.5,150.1 L50.6,151.4 L50.7,152.7 L50.8,154.0 L50.9,155.4 L50.9,156.8 L50.9,158.1 L50.9,159.5 L50.9,160.8 L50.8,161.9 L50.7,163.0 L50.6,164.0 L50.5,164.9 L50.3,165.7 L50.1,166.5 L49.8,167.2 L49.5,167.9 L49.2,168.5 L48.8,169.1 L48.3,169.6 L47.8,170.1 L47.2,170.5 L46.5,170.9 L45.6,171.4 L44.7,171.7 L43.8,172.0 L43.1,172.3 L42.5,172.5 L37.0,174.0 L31.5,172.5 L30.9,172.3 L30.2,172.0 L29.3,171.7 L28.4,171.4 L27.5,170.9 L26.8,170.5 L26.2,170.1 L25.7,169.6 L25.2,169.1 L24.8,168.5 L24.5,167.9 L24.2,167.2 L23.9,166.5 L23.7,165.7 L23.5,164.9 L23.4,164.0 L23.3,163.0 L23.2,161.9 L23.1,160.8 L23.1,159.5 L23.1,158.1 L23.1,156.8 L23.1,155.4 L23.2,154.0 L23.3,152.7 L23.4,151.4 L23.5,150.1 L23.6,148.7 L23.8,147.4 L23.9,146.1 L24.0,144.8 L24.2,143.4 L24.3,142.0 L24.5,140.7 L24.7,139.4 L24.9,138.2 L25.0,137.1 L25.2,136.0 L25.4,135.0 L25.6,134.0 L25.8,133.1 L26.0,132.2 L26.2,131.4 L26.4,130.6 L26.6,129.8 L26.8,129.1 L27.1,128.4 L27.3,127.6 L27.6,126.9 L27.9,126.1 L28.1,125.3 L28.4,124.5 L28.7,123.8 L29.0,123.0 L29.3,122.2 L29.6,121.5 L30.0,120.7 L30.3,120.0 L30.7,119.2 L31.1,118.4 L31.5,117.5 L31.9,116.6 L32.4,115.7 L32.8,114.7 L33.2,113.9 L33.5,113.1 L33.8,112.4 L34.1,111.9 L34.3,111.3 L34.4,110.8 L34.6,110.3 L34.8,109.8 L35.0,109.2 L35.1,108.6 L35.3,108.0 L35.4,107.5 L35.6,106.9 L35.8,106.5 L36.0,106.2 L36.2,105.9 L36.4,105.6 L36.7,105.4 L36.9,105.3 L37.0,105.2Z" fill="url(#mouseedge)"/>
<rect x="65.4" y="103.8" width="3.2" height="5.7" fill="#aaa5a0"/>
<rect x="66.0" y="170.0" width="2" height="12" fill="#9a9592"/>
<path d="M58.4,167.4 l-7,5 l1.5,1.5 l7,-3 Z" fill="#b0aba7"/>
<path d="M75.6,167.4 l7,5 l-1.5,1.5 l-7,-3 Z" fill="#b0aba7"/>
<path d="M67.0,105.2 L67.2,105.3 L67.4,105.5 L67.6,105.6 L67.9,105.9 L68.2,106.2 L68.4,106.5 L68.6,106.9 L68.8,107.4 L69.0,108.0 L69.1,108.6 L69.3,109.2 L69.5,109.8 L69.7,110.3 L69.9,110.8 L70.1,111.3 L70.3,111.8 L70.6,112.4 L70.9,113.0 L71.3,113.8 L71.8,114.7 L72.3,115.6 L72.8,116.5 L73.3,117.4 L73.8,118.3 L74.2,119.1 L74.6,119.9 L75.0,120.6 L75.4,121.4 L75.7,122.1 L76.1,122.9 L76.5,123.6 L76.8,124.4 L77.1,125.2 L77.4,125.9 L77.7,126.7 L78.0,127.5 L78.3,128.2 L78.5,128.9 L78.8,129.7 L79.1,130.4 L79.3,131.2 L79.6,132.0 L79.8,132.9 L80.0,133.8 L80.2,134.8 L80.4,135.8 L80.6,136.8 L80.8,137.9 L81.0,139.1 L81.2,140.4 L81.4,141.7 L81.6,143.1 L81.8,144.5 L81.9,145.8 L82.1,147.1 L82.2,148.4 L82.4,149.7 L82.5,151.0 L82.6,152.4 L82.7,153.7 L82.8,155.0 L82.8,156.4 L82.8,157.8 L82.8,159.1 L82.8,160.4 L82.7,161.5 L82.6,162.6 L82.5,163.5 L82.3,164.4 L82.1,165.3 L81.9,166.0 L81.6,166.8 L81.2,167.4 L80.8,168.0 L80.4,168.6 L79.9,169.1 L79.3,169.6 L78.6,170.0 L77.8,170.5 L76.8,170.9 L75.8,171.2 L74.8,171.5 L73.9,171.8 L73.3,172.0 L67.0,173.5 L60.7,172.0 L60.1,171.8 L59.2,171.5 L58.2,171.2 L57.2,170.9 L56.2,170.5 L55.4,170.0 L54.7,169.6 L54.1,169.1 L53.6,168.6 L53.2,168.0 L52.8,167.4 L52.4,166.8 L52.1,166.0 L51.9,165.3 L51.7,164.4 L51.5,163.5 L51.4,162.6 L51.3,161.5 L51.2,160.4 L51.2,159.1 L51.2,157.8 L51.2,156.4 L51.2,155.0 L51.3,153.7 L51.4,152.4 L51.5,151.0 L51.6,149.7 L51.8,148.4 L51.9,147.1 L52.1,145.8 L52.2,144.5 L52.4,143.1 L52.6,141.7 L52.8,140.4 L53.0,139.1 L53.2,137.9 L53.4,136.8 L53.6,135.8 L53.8,134.8 L54.0,133.8 L54.2,132.9 L54.4,132.0 L54.7,131.2 L54.9,130.4 L55.2,129.7 L55.5,128.9 L55.7,128.2 L56.0,127.5 L56.3,126.7 L56.6,125.9 L56.9,125.2 L57.2,124.4 L57.5,123.6 L57.9,122.9 L58.3,122.1 L58.6,121.4 L59.0,120.6 L59.4,119.9 L59.8,119.1 L60.2,118.3 L60.7,117.4 L61.2,116.5 L61.7,115.6 L62.2,114.7 L62.7,113.8 L63.1,113.0 L63.4,112.4 L63.7,111.8 L63.9,111.3 L64.1,110.8 L64.3,110.3 L64.5,109.8 L64.7,109.2 L64.9,108.6 L65.0,108.0 L65.2,107.4 L65.4,106.9 L65.6,106.5 L65.8,106.2 L66.1,105.9 L66.4,105.6 L66.6,105.5 L66.8,105.3 L67.0,105.2Z" fill="url(#mouseg)"/>
<path d="M67.0,105.2 L67.2,105.3 L67.4,105.5 L67.6,105.6 L67.9,105.9 L68.2,106.2 L68.4,106.5 L68.6,106.9 L68.8,107.4 L69.0,108.0 L69.1,108.6 L69.3,109.2 L69.5,109.8 L69.7,110.3 L69.9,110.8 L70.1,111.3 L70.3,111.8 L70.6,112.4 L70.9,113.0 L71.3,113.8 L71.8,114.7 L72.3,115.6 L72.8,116.5 L73.3,117.4 L73.8,118.3 L74.2,119.1 L74.6,119.9 L75.0,120.6 L75.4,121.4 L75.7,122.1 L76.1,122.9 L76.5,123.6 L76.8,124.4 L77.1,125.2 L77.4,125.9 L77.7,126.7 L78.0,127.5 L78.3,128.2 L78.5,128.9 L78.8,129.7 L79.1,130.4 L79.3,131.2 L79.6,132.0 L79.8,132.9 L80.0,133.8 L80.2,134.8 L80.4,135.8 L80.6,136.8 L80.8,137.9 L81.0,139.1 L81.2,140.4 L81.4,141.7 L81.6,143.1 L81.8,144.5 L81.9,145.8 L82.1,147.1 L82.2,148.4 L82.4,149.7 L82.5,151.0 L82.6,152.4 L82.7,153.7 L82.8,155.0 L82.8,156.4 L82.8,157.8 L82.8,159.1 L82.8,160.4 L82.7,161.5 L82.6,162.6 L82.5,163.5 L82.3,164.4 L82.1,165.3 L81.9,166.0 L81.6,166.8 L81.2,167.4 L80.8,168.0 L80.4,168.6 L79.9,169.1 L79.3,169.6 L78.6,170.0 L77.8,170.5 L76.8,170.9 L75.8,171.2 L74.8,171.5 L73.9,171.8 L73.3,172.0 L67.0,173.5 L60.7,172.0 L60.1,171.8 L59.2,171.5 L58.2,171.2 L57.2,170.9 L56.2,170.5 L55.4,170.0 L54.7,169.6 L54.1,169.1 L53.6,168.6 L53.2,168.0 L52.8,167.4 L52.4,166.8 L52.1,166.0 L51.9,165.3 L51.7,164.4 L51.5,163.5 L51.4,162.6 L51.3,161.5 L51.2,160.4 L51.2,159.1 L51.2,157.8 L51.2,156.4 L51.2,155.0 L51.3,153.7 L51.4,152.4 L51.5,151.0 L51.6,149.7 L51.8,148.4 L51.9,147.1 L52.1,145.8 L52.2,144.5 L52.4,143.1 L52.6,141.7 L52.8,140.4 L53.0,139.1 L53.2,137.9 L53.4,136.8 L53.6,135.8 L53.8,134.8 L54.0,133.8 L54.2,132.9 L54.4,132.0 L54.7,131.2 L54.9,130.4 L55.2,129.7 L55.5,128.9 L55.7,128.2 L56.0,127.5 L56.3,126.7 L56.6,125.9 L56.9,125.2 L57.2,124.4 L57.5,123.6 L57.9,122.9 L58.3,122.1 L58.6,121.4 L59.0,120.6 L59.4,119.9 L59.8,119.1 L60.2,118.3 L60.7,117.4 L61.2,116.5 L61.7,115.6 L62.2,114.7 L62.7,113.8 L63.1,113.0 L63.4,112.4 L63.7,111.8 L63.9,111.3 L64.1,110.8 L64.3,110.3 L64.5,109.8 L64.7,109.2 L64.9,108.6 L65.0,108.0 L65.2,107.4 L65.4,106.9 L65.6,106.5 L65.8,106.2 L66.1,105.9 L66.4,105.6 L66.6,105.5 L66.8,105.3 L67.0,105.2Z" fill="url(#mouseedge)"/>
<rect x="98.4" y="103.8" width="3.2" height="5.7" fill="#aaa5a0"/>
<rect x="99.0" y="170.0" width="2" height="12" fill="#9a9592"/>
<path d="M90.8,167.4 l-7,5 l1.5,1.5 l7,-3 Z" fill="#b0aba7"/>
<path d="M109.2,167.4 l7,5 l-1.5,1.5 l-7,-3 Z" fill="#b0aba7"/>
<path d="M100.0,105.2 L100.2,105.3 L100.4,105.5 L100.7,105.6 L101.0,105.9 L101.3,106.2 L101.5,106.5 L101.7,106.9 L101.9,107.4 L102.1,108.0 L102.3,108.6 L102.5,109.2 L102.7,109.8 L102.9,110.3 L103.1,110.8 L103.3,111.3 L103.6,111.8 L103.8,112.4 L104.2,113.0 L104.6,113.8 L105.1,114.7 L105.6,115.6 L106.2,116.5 L106.7,117.4 L107.2,118.3 L107.6,119.1 L108.1,119.9 L108.5,120.6 L108.9,121.4 L109.3,122.1 L109.7,122.9 L110.1,123.6 L110.4,124.4 L110.7,125.2 L111.1,125.9 L111.4,126.7 L111.7,127.5 L112.0,128.2 L112.3,128.9 L112.6,129.7 L112.8,130.4 L113.1,131.2 L113.4,132.0 L113.6,132.9 L113.8,133.8 L114.1,134.8 L114.3,135.8 L114.5,136.8 L114.7,137.9 L114.9,139.1 L115.1,140.4 L115.3,141.7 L115.5,143.1 L115.7,144.5 L115.9,145.8 L116.0,147.1 L116.2,148.4 L116.4,149.7 L116.5,151.0 L116.6,152.4 L116.7,153.7 L116.8,155.0 L116.8,156.4 L116.8,157.8 L116.8,159.1 L116.8,160.4 L116.7,161.5 L116.6,162.6 L116.5,163.5 L116.3,164.4 L116.1,165.3 L115.9,166.0 L115.5,166.8 L115.1,167.4 L114.7,168.0 L114.2,168.6 L113.7,169.1 L113.1,169.6 L112.4,170.0 L111.5,170.5 L110.4,170.9 L109.3,171.2 L108.2,171.5 L107.3,171.8 L106.7,172.0 L100.0,173.5 L93.3,172.0 L92.7,171.8 L91.8,171.5 L90.7,171.2 L89.6,170.9 L88.5,170.5 L87.6,170.0 L86.9,169.6 L86.3,169.1 L85.8,168.6 L85.3,168.0 L84.9,167.4 L84.5,166.8 L84.1,166.0 L83.9,165.3 L83.7,164.4 L83.5,163.5 L83.4,162.6 L83.3,161.5 L83.2,160.4 L83.2,159.1 L83.2,157.8 L83.2,156.4 L83.2,155.0 L83.3,153.7 L83.4,152.4 L83.5,151.0 L83.6,149.7 L83.8,148.4 L84.0,147.1 L84.1,145.8 L84.3,144.5 L84.5,143.1 L84.7,141.7 L84.9,140.4 L85.1,139.1 L85.3,137.9 L85.5,136.8 L85.7,135.8 L85.9,134.8 L86.2,133.8 L86.4,132.9 L86.6,132.0 L86.9,131.2 L87.2,130.4 L87.4,129.7 L87.7,128.9 L88.0,128.2 L88.3,127.5 L88.6,126.7 L88.9,125.9 L89.3,125.2 L89.6,124.4 L89.9,123.6 L90.3,122.9 L90.7,122.1 L91.1,121.4 L91.5,120.6 L91.9,119.9 L92.4,119.1 L92.8,118.3 L93.3,117.4 L93.8,116.5 L94.4,115.6 L94.9,114.7 L95.4,113.8 L95.8,113.0 L96.2,112.4 L96.4,111.8 L96.7,111.3 L96.9,110.8 L97.1,110.3 L97.3,109.8 L97.5,109.2 L97.7,108.6 L97.9,108.0 L98.1,107.4 L98.3,106.9 L98.5,106.5 L98.7,106.2 L99.0,105.9 L99.3,105.6 L99.6,105.5 L99.8,105.3 L100.0,105.2Z" fill="url(#mouseg)"/>
<path d="M100.0,105.2 L100.2,105.3 L100.4,105.5 L100.7,105.6 L101.0,105.9 L101.3,106.2 L101.5,106.5 L101.7,106.9 L101.9,107.4 L102.1,108.0 L102.3,108.6 L102.5,109.2 L102.7,109.8 L102.9,110.3 L103.1,110.8 L103.3,111.3 L103.6,111.8 L103.8,112.4 L104.2,113.0 L104.6,113.8 L105.1,114.7 L105.6,115.6 L106.2,116.5 L106.7,117.4 L107.2,118.3 L107.6,119.1 L108.1,119.9 L108.5,120.6 L108.9,121.4 L109.3,122.1 L109.7,122.9 L110.1,123.6 L110.4,124.4 L110.7,125.2 L111.1,125.9 L111.4,126.7 L111.7,127.5 L112.0,128.2 L112.3,128.9 L112.6,129.7 L112.8,130.4 L113.1,131.2 L113.4,132.0 L113.6,132.9 L113.8,133.8 L114.1,134.8 L114.3,135.8 L114.5,136.8 L114.7,137.9 L114.9,139.1 L115.1,140.4 L115.3,141.7 L115.5,143.1 L115.7,144.5 L115.9,145.8 L116.0,147.1 L116.2,148.4 L116.4,149.7 L116.5,151.0 L116.6,152.4 L116.7,153.7 L116.8,155.0 L116.8,156.4 L116.8,157.8 L116.8,159.1 L116.8,160.4 L116.7,161.5 L116.6,162.6 L116.5,163.5 L116.3,164.4 L116.1,165.3 L115.9,166.0 L115.5,166.8 L115.1,167.4 L114.7,168.0 L114.2,168.6 L113.7,169.1 L113.1,169.6 L112.4,170.0 L111.5,170.5 L110.4,170.9 L109.3,171.2 L108.2,171.5 L107.3,171.8 L106.7,172.0 L100.0,173.5 L93.3,172.0 L92.7,171.8 L91.8,171.5 L90.7,171.2 L89.6,170.9 L88.5,170.5 L87.6,170.0 L86.9,169.6 L86.3,169.1 L85.8,168.6 L85.3,168.0 L84.9,167.4 L84.5,166.8 L84.1,166.0 L83.9,165.3 L83.7,164.4 L83.5,163.5 L83.4,162.6 L83.3,161.5 L83.2,160.4 L83.2,159.1 L83.2,157.8 L83.2,156.4 L83.2,155.0 L83.3,153.7 L83.4,152.4 L83.5,151.0 L83.6,149.7 L83.8,148.4 L84.0,147.1 L84.1,145.8 L84.3,144.5 L84.5,143.1 L84.7,141.7 L84.9,140.4 L85.1,139.1 L85.3,137.9 L85.5,136.8 L85.7,135.8 L85.9,134.8 L86.2,133.8 L86.4,132.9 L86.6,132.0 L86.9,131.2 L87.2,130.4 L87.4,129.7 L87.7,128.9 L88.0,128.2 L88.3,127.5 L88.6,126.7 L88.9,125.9 L89.3,125.2 L89.6,124.4 L89.9,123.6 L90.3,122.9 L90.7,122.1 L91.1,121.4 L91.5,120.6 L91.9,119.9 L92.4,119.1 L92.8,118.3 L93.3,117.4 L93.8,116.5 L94.4,115.6 L94.9,114.7 L95.4,113.8 L95.8,113.0 L96.2,112.4 L96.4,111.8 L96.7,111.3 L96.9,110.8 L97.1,110.3 L97.3,109.8 L97.5,109.2 L97.7,108.6 L97.9,108.0 L98.1,107.4 L98.3,106.9 L98.5,106.5 L98.7,106.2 L99.0,105.9 L99.3,105.6 L99.6,105.5 L99.8,105.3 L100.0,105.2Z" fill="url(#mouseedge)"/>
</g>
<g filter="url(#soft)">
<path d="M24,134 Q25,128.6 32,128.4 L41,128.6 Q46.5,130.5 47.4,136 Q47.5,142 43,144.5 L30,144.9 Q24.3,143.5 24,138 Z" fill="url(#bfill)"/>
<ellipse cx="38.0" cy="136.6" rx="7.0" ry="5.2" fill="url(#blobspot)"/>
<path d="M54.7,136 Q55,130.5 60,129.8 L66,129.3 Q69.8,131 69.7,135 Q69.5,139.5 66,140.3 L58,140.3 Q54.7,139.5 54.7,136 Z" fill="#4429ad"/>
<ellipse cx="75.8" cy="137.5" rx="2.4" ry="3.4" fill="#4429ad"/>
<path d="M84.9,136 Q86,129 93,127.8 L100,127.5 Q104.8,129.5 105,135 Q105,141 100,143.6 L90,144 Q85,142 84.9,136 Z" fill="url(#bfill)"/>
<ellipse cx="92.8" cy="135.7" rx="7.0" ry="5.0" fill="url(#blobspot)"/>
<ellipse cx="102.0" cy="177.4" rx="1.8" ry="1.3" fill="#4429ad"/>
</g>
<rect x="20.1" y="104.3" width="97.6" height="73.7" fill="none" stroke="#1a1616" stroke-width="1"/>
</g>
<g clip-path="url(#c11)">
<rect x="121.4" y="103.8" width="99.0" height="74.7" fill="#2e2a29"/>
<rect x="121.4" y="103.8" width="99.0" height="15" fill="#363030"/>
<rect x="126.9" y="103.8" width="3.2" height="14.5" rx="1" fill="#141010"/>
<rect x="133.1" y="103.8" width="1" height="14" fill="#2a2424" opacity="0.7"/>
<rect x="137.1" y="103.8" width="3.2" height="14.5" rx="1" fill="#141010"/>
<rect x="143.3" y="103.8" width="1" height="14" fill="#2a2424" opacity="0.7"/>
<rect x="147.3" y="103.8" width="3.2" height="14.5" rx="1" fill="#141010"/>
<rect x="153.5" y="103.8" width="1" height="14" fill="#2a2424" opacity="0.7"/>
<rect x="157.5" y="103.8" width="3.2" height="14.5" rx="1" fill="#141010"/>
<rect x="163.7" y="103.8" width="1" height="14" fill="#2a2424" opacity="0.7"/>
<rect x="167.7" y="103.8" width="3.2" height="14.5" rx="1" fill="#141010"/>
<rect x="173.9" y="103.8" width="1" height="14" fill="#2a2424" opacity="0.7"/>
<rect x="177.9" y="103.8" width="3.2" height="14.5" rx="1" fill="#141010"/>
<rect x="184.1" y="103.8" width="1" height="14" fill="#2a2424" opacity="0.7"/>
<rect x="188.1" y="103.8" width="3.2" height="14.5" rx="1" fill="#141010"/>
<rect x="194.3" y="103.8" width="1" height="14" fill="#2a2424" opacity="0.7"/>
<rect x="198.3" y="103.8" width="3.2" height="14.5" rx="1" fill="#141010"/>
<rect x="204.5" y="103.8" width="1" height="14" fill="#2a2424" opacity="0.7"/>
<rect x="208.5" y="103.8" width="3.2" height="14.5" rx="1" fill="#141010"/>
<rect x="214.7" y="103.8" width="1" height="14" fill="#2a2424" opacity="0.7"/>
<rect x="218.7" y="103.8" width="3.2" height="14.5" rx="1" fill="#141010"/>
<rect x="224.9" y="103.8" width="1" height="14" fill="#2a2424" opacity="0.7"/>
<rect x="121.4" y="103.8" width="99.0" height="2" fill="#141010" opacity="0.8"/>
<g filter="url(#tex)">
<rect x="138.4" y="103.8" width="3.2" height="5.7" fill="#aaa5a0"/>
<rect x="139.0" y="170.5" width="2" height="12" fill="#9a9592"/>
<path d="M131.1,167.9 l-7,5 l1.5,1.5 l7,-3 Z" fill="#b0aba7"/>
<path d="M148.9,167.9 l7,5 l-1.5,1.5 l-7,-3 Z" fill="#b0aba7"/>
<path d="M140.0,105.2 L140.3,105.3 L140.6,105.5 L141.0,105.7 L141.5,105.9 L141.9,106.2 L142.3,106.5 L142.6,106.8 L142.8,107.2 L143.0,107.6 L143.3,108.0 L143.6,108.5 L143.9,109.1 L144.3,109.9 L144.8,110.7 L145.2,111.6 L145.8,112.6 L146.3,113.5 L146.8,114.4 L147.3,115.3 L147.9,116.2 L148.4,117.1 L149.0,117.9 L149.5,118.8 L150.0,119.7 L150.5,120.6 L151.0,121.4 L151.5,122.3 L152.0,123.1 L152.4,124.0 L152.8,125.0 L153.1,126.0 L153.4,127.0 L153.7,128.1 L154.0,129.2 L154.2,130.4 L154.4,131.6 L154.6,132.8 L154.8,134.0 L155.0,135.3 L155.1,136.7 L155.3,138.1 L155.4,139.5 L155.5,141.1 L155.6,142.8 L155.7,144.5 L155.7,146.3 L155.8,147.9 L155.9,149.4 L155.9,150.7 L156.0,151.8 L156.1,152.9 L156.1,153.9 L156.2,154.9 L156.2,156.0 L156.2,157.1 L156.3,158.3 L156.3,159.4 L156.3,160.5 L156.3,161.6 L156.2,162.6 L156.1,163.5 L156.0,164.3 L155.8,165.1 L155.6,165.9 L155.4,166.5 L155.1,167.2 L154.7,167.9 L154.3,168.5 L153.8,169.0 L153.3,169.6 L152.7,170.1 L152.0,170.5 L151.1,170.9 L150.1,171.4 L149.0,171.7 L148.0,172.0 L147.1,172.3 L146.5,172.5 L140.0,174.0 L133.5,172.5 L132.9,172.3 L132.0,172.0 L131.0,171.7 L129.9,171.4 L128.9,170.9 L128.0,170.5 L127.3,170.1 L126.7,169.6 L126.2,169.0 L125.7,168.5 L125.3,167.9 L124.9,167.2 L124.6,166.5 L124.4,165.9 L124.2,165.1 L124.0,164.3 L123.9,163.5 L123.8,162.6 L123.7,161.6 L123.7,160.5 L123.7,159.4 L123.7,158.3 L123.8,157.1 L123.8,156.0 L123.8,154.9 L123.9,153.9 L123.9,152.9 L124.0,151.8 L124.1,150.7 L124.1,149.4 L124.2,147.9 L124.3,146.3 L124.3,144.5 L124.4,142.8 L124.5,141.1 L124.6,139.5 L124.7,138.1 L124.9,136.7 L125.0,135.3 L125.2,134.0 L125.4,132.8 L125.6,131.6 L125.8,130.4 L126.0,129.2 L126.3,128.1 L126.6,127.0 L126.9,126.0 L127.2,125.0 L127.6,124.0 L128.0,123.1 L128.5,122.3 L129.0,121.4 L129.5,120.6 L130.0,119.7 L130.5,118.8 L131.0,117.9 L131.6,117.1 L132.1,116.2 L132.7,115.3 L133.2,114.4 L133.7,113.5 L134.2,112.6 L134.8,111.6 L135.2,110.7 L135.7,109.9 L136.1,109.1 L136.4,108.5 L136.7,108.0 L137.0,107.6 L137.2,107.2 L137.4,106.8 L137.7,106.5 L138.1,106.2 L138.5,105.9 L139.0,105.7 L139.4,105.5 L139.7,105.3 L140.0,105.2Z" fill="url(#mouseg)"/>
<path d="M140.0,105.2 L140.3,105.3 L140.6,105.5 L141.0,105.7 L141.5,105.9 L141.9,106.2 L142.3,106.5 L142.6,106.8 L142.8,107.2 L143.0,107.6 L143.3,108.0 L143.6,108.5 L143.9,109.1 L144.3,109.9 L144.8,110.7 L145.2,111.6 L145.8,112.6 L146.3,113.5 L146.8,114.4 L147.3,115.3 L147.9,116.2 L148.4,117.1 L149.0,117.9 L149.5,118.8 L150.0,119.7 L150.5,120.6 L151.0,121.4 L151.5,122.3 L152.0,123.1 L152.4,124.0 L152.8,125.0 L153.1,126.0 L153.4,127.0 L153.7,128.1 L154.0,129.2 L154.2,130.4 L154.4,131.6 L154.6,132.8 L154.8,134.0 L155.0,135.3 L155.1,136.7 L155.3,138.1 L155.4,139.5 L155.5,141.1 L155.6,142.8 L155.7,144.5 L155.7,146.3 L155.8,147.9 L155.9,149.4 L155.9,150.7 L156.0,151.8 L156.1,152.9 L156.1,153.9 L156.2,154.9 L156.2,156.0 L156.2,157.1 L156.3,158.3 L156.3,159.4 L156.3,160.5 L156.3,161.6 L156.2,162.6 L156.1,163.5 L156.0,164.3 L155.8,165.1 L155.6,165.9 L155.4,166.5 L155.1,167.2 L154.7,167.9 L154.3,168.5 L153.8,169.0 L153.3,169.6 L152.7,170.1 L152.0,170.5 L151.1,170.9 L150.1,171.4 L149.0,171.7 L148.0,172.0 L147.1,172.3 L146.5,172.5 L140.0,174.0 L133.5,172.5 L132.9,172.3 L132.0,172.0 L131.0,171.7 L129.9,171.4 L128.9,170.9 L128.0,170.5 L127.3,170.1 L126.7,169.6 L126.2,169.0 L125.7,168.5 L125.3,167.9 L124.9,167.2 L124.6,166.5 L124.4,165.9 L124.2,165.1 L124.0,164.3 L123.9,163.5 L123.8,162.6 L123.7,161.6 L123.7,160.5 L123.7,159.4 L123.7,158.3 L123.8,157.1 L123.8,156.0 L123.8,154.9 L123.9,153.9 L123.9,152.9 L124.0,151.8 L124.1,150.7 L124.1,149.4 L124.2,147.9 L124.3,146.3 L124.3,144.5 L124.4,142.8 L124.5,141.1 L124.6,139.5 L124.7,138.1 L124.9,136.7 L125.0,135.3 L125.2,134.0 L125.4,132.8 L125.6,131.6 L125.8,130.4 L126.0,129.2 L126.3,128.1 L126.6,127.0 L126.9,126.0 L127.2,125.0 L127.6,124.0 L128.0,123.1 L128.5,122.3 L129.0,121.4 L129.5,120.6 L130.0,119.7 L130.5,118.8 L131.0,117.9 L131.6,117.1 L132.1,116.2 L132.7,115.3 L133.2,114.4 L133.7,113.5 L134.2,112.6 L134.8,111.6 L135.2,110.7 L135.7,109.9 L136.1,109.1 L136.4,108.5 L136.7,108.0 L137.0,107.6 L137.2,107.2 L137.4,106.8 L137.7,106.5 L138.1,106.2 L138.5,105.9 L139.0,105.7 L139.4,105.5 L139.7,105.3 L140.0,105.2Z" fill="url(#mouseedge)"/>
<rect x="169.9" y="103.8" width="3.2" height="5.7" fill="#aaa5a0"/>
<rect x="170.5" y="171.5" width="2" height="12" fill="#9a9592"/>
<path d="M163.4,168.8 l-7,5 l1.5,1.5 l7,-3 Z" fill="#b0aba7"/>
<path d="M179.6,168.8 l7,5 l-1.5,1.5 l-7,-3 Z" fill="#b0aba7"/>
<path d="M171.5,105.2 L171.7,105.3 L172.1,105.5 L172.4,105.7 L172.8,105.9 L173.2,106.2 L173.6,106.5 L173.8,106.8 L174.1,107.2 L174.3,107.6 L174.5,108.0 L174.7,108.6 L175.1,109.2 L175.4,109.9 L175.8,110.8 L176.3,111.7 L176.8,112.7 L177.2,113.6 L177.7,114.5 L178.2,115.4 L178.7,116.3 L179.2,117.2 L179.7,118.1 L180.2,119.0 L180.7,119.9 L181.1,120.8 L181.6,121.6 L182.0,122.5 L182.4,123.4 L182.8,124.3 L183.2,125.3 L183.5,126.3 L183.8,127.3 L184.0,128.4 L184.3,129.6 L184.5,130.8 L184.7,132.0 L184.9,133.2 L185.0,134.5 L185.2,135.8 L185.3,137.1 L185.4,138.5 L185.6,140.0 L185.7,141.6 L185.7,143.3 L185.8,145.1 L185.9,146.9 L185.9,148.5 L186.0,150.1 L186.1,151.4 L186.1,152.5 L186.2,153.6 L186.2,154.6 L186.3,155.7 L186.3,156.8 L186.3,157.9 L186.4,159.1 L186.4,160.2 L186.4,161.4 L186.4,162.4 L186.3,163.4 L186.2,164.4 L186.1,165.2 L186.0,166.0 L185.8,166.8 L185.6,167.5 L185.3,168.1 L184.9,168.8 L184.5,169.4 L184.1,170.0 L183.6,170.5 L183.1,171.0 L182.5,171.5 L181.7,171.9 L180.8,172.3 L179.8,172.7 L178.8,173.0 L178.0,173.3 L177.4,173.5 L171.5,175.0 L165.6,173.5 L165.0,173.3 L164.2,173.0 L163.2,172.7 L162.2,172.3 L161.3,171.9 L160.5,171.5 L159.9,171.0 L159.4,170.5 L158.9,170.0 L158.5,169.4 L158.1,168.8 L157.7,168.1 L157.4,167.5 L157.2,166.8 L157.0,166.0 L156.9,165.2 L156.8,164.4 L156.7,163.4 L156.6,162.4 L156.6,161.4 L156.6,160.2 L156.6,159.1 L156.7,157.9 L156.7,156.8 L156.7,155.7 L156.8,154.6 L156.8,153.6 L156.9,152.5 L156.9,151.4 L157.0,150.1 L157.1,148.5 L157.1,146.9 L157.2,145.1 L157.3,143.3 L157.3,141.6 L157.4,140.0 L157.6,138.5 L157.7,137.1 L157.8,135.8 L158.0,134.5 L158.1,133.2 L158.3,132.0 L158.5,130.8 L158.7,129.6 L159.0,128.4 L159.2,127.3 L159.5,126.3 L159.8,125.3 L160.2,124.3 L160.6,123.4 L161.0,122.5 L161.4,121.6 L161.9,120.8 L162.3,119.9 L162.8,119.0 L163.3,118.1 L163.8,117.2 L164.3,116.3 L164.8,115.4 L165.3,114.5 L165.8,113.6 L166.2,112.7 L166.7,111.7 L167.2,110.8 L167.6,109.9 L167.9,109.2 L168.3,108.6 L168.5,108.0 L168.7,107.6 L168.9,107.2 L169.2,106.8 L169.4,106.5 L169.8,106.2 L170.2,105.9 L170.6,105.7 L170.9,105.5 L171.3,105.3 L171.5,105.2Z" fill="url(#mouseg)"/>
<path d="M171.5,105.2 L171.7,105.3 L172.1,105.5 L172.4,105.7 L172.8,105.9 L173.2,106.2 L173.6,106.5 L173.8,106.8 L174.1,107.2 L174.3,107.6 L174.5,108.0 L174.7,108.6 L175.1,109.2 L175.4,109.9 L175.8,110.8 L176.3,111.7 L176.8,112.7 L177.2,113.6 L177.7,114.5 L178.2,115.4 L178.7,116.3 L179.2,117.2 L179.7,118.1 L180.2,119.0 L180.7,119.9 L181.1,120.8 L181.6,121.6 L182.0,122.5 L182.4,123.4 L182.8,124.3 L183.2,125.3 L183.5,126.3 L183.8,127.3 L184.0,128.4 L184.3,129.6 L184.5,130.8 L184.7,132.0 L184.9,133.2 L185.0,134.5 L185.2,135.8 L185.3,137.1 L185.4,138.5 L185.6,140.0 L185.7,141.6 L185.7,143.3 L185.8,145.1 L185.9,146.9 L185.9,148.5 L186.0,150.1 L186.1,151.4 L186.1,152.5 L186.2,153.6 L186.2,154.6 L186.3,155.7 L186.3,156.8 L186.3,157.9 L186.4,159.1 L186.4,160.2 L186.4,161.4 L186.4,162.4 L186.3,163.4 L186.2,164.4 L186.1,165.2 L186.0,166.0 L185.8,166.8 L185.6,167.5 L185.3,168.1 L184.9,168.8 L184.5,169.4 L184.1,170.0 L183.6,170.5 L183.1,171.0 L182.5,171.5 L181.7,171.9 L180.8,172.3 L179.8,172.7 L178.8,173.0 L178.0,173.3 L177.4,173.5 L171.5,175.0 L165.6,173.5 L165.0,173.3 L164.2,173.0 L163.2,172.7 L162.2,172.3 L161.3,171.9 L160.5,171.5 L159.9,171.0 L159.4,170.5 L158.9,170.0 L158.5,169.4 L158.1,168.8 L157.7,168.1 L157.4,167.5 L157.2,166.8 L157.0,166.0 L156.9,165.2 L156.8,164.4 L156.7,163.4 L156.6,162.4 L156.6,161.4 L156.6,160.2 L156.6,159.1 L156.7,157.9 L156.7,156.8 L156.7,155.7 L156.8,154.6 L156.8,153.6 L156.9,152.5 L156.9,151.4 L157.0,150.1 L157.1,148.5 L157.1,146.9 L157.2,145.1 L157.3,143.3 L157.3,141.6 L157.4,140.0 L157.6,138.5 L157.7,137.1 L157.8,135.8 L158.0,134.5 L158.1,133.2 L158.3,132.0 L158.5,130.8 L158.7,129.6 L159.0,128.4 L159.2,127.3 L159.5,126.3 L159.8,125.3 L160.2,124.3 L160.6,123.4 L161.0,122.5 L161.4,121.6 L161.9,120.8 L162.3,119.9 L162.8,119.0 L163.3,118.1 L163.8,117.2 L164.3,116.3 L164.8,115.4 L165.3,114.5 L165.8,113.6 L166.2,112.7 L166.7,111.7 L167.2,110.8 L167.6,109.9 L167.9,109.2 L168.3,108.6 L168.5,108.0 L168.7,107.6 L168.9,107.2 L169.2,106.8 L169.4,106.5 L169.8,106.2 L170.2,105.9 L170.6,105.7 L170.9,105.5 L171.3,105.3 L171.5,105.2Z" fill="url(#mouseedge)"/>
<rect x="201.9" y="103.8" width="3.2" height="5.7" fill="#aaa5a0"/>
<rect x="202.5" y="170.0" width="2" height="12" fill="#9a9592"/>
<path d="M194.9,167.4 l-7,5 l1.5,1.5 l7,-3 Z" fill="#b0aba7"/>
<path d="M212.1,167.4 l7,5 l-1.5,1.5 l-7,-3 Z" fill="#b0aba7"/>
<path d="M203.5,105.2 L203.7,105.3 L204.1,105.5 L204.5,105.7 L204.9,105.9 L205.3,106.2 L205.7,106.5 L206.0,106.8 L206.2,107.2 L206.4,107.6 L206.7,108.0 L206.9,108.5 L207.3,109.1 L207.7,109.8 L208.1,110.7 L208.6,111.6 L209.1,112.5 L209.6,113.5 L210.1,114.4 L210.6,115.2 L211.1,116.1 L211.7,117.0 L212.2,117.9 L212.7,118.7 L213.2,119.6 L213.7,120.5 L214.2,121.3 L214.7,122.1 L215.1,123.0 L215.5,123.9 L215.9,124.8 L216.2,125.8 L216.5,126.9 L216.8,128.0 L217.0,129.1 L217.3,130.2 L217.5,131.4 L217.7,132.6 L217.9,133.8 L218.0,135.1 L218.2,136.4 L218.3,137.8 L218.4,139.2 L218.5,140.8 L218.6,142.5 L218.7,144.2 L218.8,146.0 L218.8,147.6 L218.9,149.1 L219.0,150.4 L219.0,151.5 L219.1,152.6 L219.1,153.6 L219.2,154.6 L219.2,155.6 L219.2,156.7 L219.3,157.9 L219.3,159.0 L219.3,160.1 L219.3,161.2 L219.2,162.2 L219.1,163.1 L219.0,163.9 L218.8,164.7 L218.6,165.4 L218.4,166.1 L218.1,166.8 L217.7,167.4 L217.3,168.0 L216.9,168.6 L216.4,169.1 L215.8,169.6 L215.1,170.0 L214.3,170.5 L213.3,170.9 L212.3,171.2 L211.3,171.5 L210.4,171.8 L209.8,172.0 L203.5,173.5 L197.2,172.0 L196.6,171.8 L195.7,171.5 L194.7,171.2 L193.7,170.9 L192.7,170.5 L191.9,170.0 L191.2,169.6 L190.6,169.1 L190.1,168.6 L189.7,168.0 L189.3,167.4 L188.9,166.8 L188.6,166.1 L188.4,165.4 L188.2,164.7 L188.0,163.9 L187.9,163.1 L187.8,162.2 L187.7,161.2 L187.7,160.1 L187.7,159.0 L187.7,157.9 L187.8,156.7 L187.8,155.6 L187.8,154.6 L187.9,153.6 L187.9,152.6 L188.0,151.5 L188.0,150.4 L188.1,149.1 L188.2,147.6 L188.2,146.0 L188.3,144.2 L188.4,142.5 L188.5,140.8 L188.6,139.2 L188.7,137.8 L188.8,136.4 L189.0,135.1 L189.1,133.8 L189.3,132.6 L189.5,131.4 L189.7,130.2 L190.0,129.1 L190.2,128.0 L190.5,126.9 L190.8,125.8 L191.1,124.8 L191.5,123.9 L191.9,123.0 L192.3,122.1 L192.8,121.3 L193.3,120.5 L193.8,119.6 L194.3,118.7 L194.8,117.9 L195.3,117.0 L195.9,116.1 L196.4,115.2 L196.9,114.4 L197.4,113.5 L197.9,112.5 L198.4,111.6 L198.9,110.7 L199.3,109.8 L199.7,109.1 L200.1,108.5 L200.3,108.0 L200.6,107.6 L200.8,107.2 L201.0,106.8 L201.3,106.5 L201.7,106.2 L202.1,105.9 L202.5,105.7 L202.9,105.5 L203.3,105.3 L203.5,105.2Z" fill="url(#mouseg)"/>
<path d="M203.5,105.2 L203.7,105.3 L204.1,105.5 L204.5,105.7 L204.9,105.9 L205.3,106.2 L205.7,106.5 L206.0,106.8 L206.2,107.2 L206.4,107.6 L206.7,108.0 L206.9,108.5 L207.3,109.1 L207.7,109.8 L208.1,110.7 L208.6,111.6 L209.1,112.5 L209.6,113.5 L210.1,114.4 L210.6,115.2 L211.1,116.1 L211.7,117.0 L212.2,117.9 L212.7,118.7 L213.2,119.6 L213.7,120.5 L214.2,121.3 L214.7,122.1 L215.1,123.0 L215.5,123.9 L215.9,124.8 L216.2,125.8 L216.5,126.9 L216.8,128.0 L217.0,129.1 L217.3,130.2 L217.5,131.4 L217.7,132.6 L217.9,133.8 L218.0,135.1 L218.2,136.4 L218.3,137.8 L218.4,139.2 L218.5,140.8 L218.6,142.5 L218.7,144.2 L218.8,146.0 L218.8,147.6 L218.9,149.1 L219.0,150.4 L219.0,151.5 L219.1,152.6 L219.1,153.6 L219.2,154.6 L219.2,155.6 L219.2,156.7 L219.3,157.9 L219.3,159.0 L219.3,160.1 L219.3,161.2 L219.2,162.2 L219.1,163.1 L219.0,163.9 L218.8,164.7 L218.6,165.4 L218.4,166.1 L218.1,166.8 L217.7,167.4 L217.3,168.0 L216.9,168.6 L216.4,169.1 L215.8,169.6 L215.1,170.0 L214.3,170.5 L213.3,170.9 L212.3,171.2 L211.3,171.5 L210.4,171.8 L209.8,172.0 L203.5,173.5 L197.2,172.0 L196.6,171.8 L195.7,171.5 L194.7,171.2 L193.7,170.9 L192.7,170.5 L191.9,170.0 L191.2,169.6 L190.6,169.1 L190.1,168.6 L189.7,168.0 L189.3,167.4 L188.9,166.8 L188.6,166.1 L188.4,165.4 L188.2,164.7 L188.0,163.9 L187.9,163.1 L187.8,162.2 L187.7,161.2 L187.7,160.1 L187.7,159.0 L187.7,157.9 L187.8,156.7 L187.8,155.6 L187.8,154.6 L187.9,153.6 L187.9,152.6 L188.0,151.5 L188.0,150.4 L188.1,149.1 L188.2,147.6 L188.2,146.0 L188.3,144.2 L188.4,142.5 L188.5,140.8 L188.6,139.2 L188.7,137.8 L188.8,136.4 L189.0,135.1 L189.1,133.8 L189.3,132.6 L189.5,131.4 L189.7,130.2 L190.0,129.1 L190.2,128.0 L190.5,126.9 L190.8,125.8 L191.1,124.8 L191.5,123.9 L191.9,123.0 L192.3,122.1 L192.8,121.3 L193.3,120.5 L193.8,119.6 L194.3,118.7 L194.8,117.9 L195.3,117.0 L195.9,116.1 L196.4,115.2 L196.9,114.4 L197.4,113.5 L197.9,112.5 L198.4,111.6 L198.9,110.7 L199.3,109.8 L199.7,109.1 L200.1,108.5 L200.3,108.0 L200.6,107.6 L200.8,107.2 L201.0,106.8 L201.3,106.5 L201.7,106.2 L202.1,105.9 L202.5,105.7 L202.9,105.5 L203.3,105.3 L203.5,105.2Z" fill="url(#mouseedge)"/>
</g>
<g filter="url(#soft)">
<ellipse cx="161.2" cy="162.7" rx="2.2" ry="2.2" fill="#4429ad"/>
<ellipse cx="144.5" cy="176.9" rx="1.8" ry="1.3" fill="#4429ad"/>
<ellipse cx="177.0" cy="162.5" rx="1.1" ry="1.1" fill="#4429ad"/>
<ellipse cx="178.0" cy="160.6" rx="0.9" ry="0.9" fill="#4429ad"/>
</g>
<rect x="121.9" y="104.3" width="98.0" height="73.7" fill="none" stroke="#1a1616" stroke-width="1"/>
</g>
<g clip-path="url(#c21)">
<rect x="223.3" y="103.8" width="98.7" height="74.7" fill="#403e3e"/>
<rect x="223.3" y="103.8" width="98.7" height="15" fill="#4e4c4c"/>
<rect x="228.8" y="103.8" width="3.2" height="14.5" rx="1" fill="#141010"/>
<rect x="235.0" y="103.8" width="1" height="14" fill="#2a2424" opacity="0.7"/>
<rect x="239.0" y="103.8" width="3.2" height="14.5" rx="1" fill="#141010"/>
<rect x="245.2" y="103.8" width="1" height="14" fill="#2a2424" opacity="0.7"/>
<rect x="249.2" y="103.8" width="3.2" height="14.5" rx="1" fill="#141010"/>
<rect x="255.4" y="103.8" width="1" height="14" fill="#2a2424" opacity="0.7"/>
<rect x="259.4" y="103.8" width="3.2" height="14.5" rx="1" fill="#141010"/>
<rect x="265.6" y="103.8" width="1" height="14" fill="#2a2424" opacity="0.7"/>
<rect x="269.6" y="103.8" width="3.2" height="14.5" rx="1" fill="#141010"/>
<rect x="275.8" y="103.8" width="1" height="14" fill="#2a2424" opacity="0.7"/>
<rect x="279.8" y="103.8" width="3.2" height="14.5" rx="1" fill="#141010"/>
<rect x="286.0" y="103.8" width="1" height="14" fill="#2a2424" opacity="0.7"/>
<rect x="290.0" y="103.8" width="3.2" height="14.5" rx="1" fill="#141010"/>
<rect x="296.2" y="103.8" width="1" height="14" fill="#2a2424" opacity="0.7"/>
<rect x="300.2" y="103.8" width="3.2" height="14.5" rx="1" fill="#141010"/>
<rect x="306.4" y="103.8" width="1" height="14" fill="#2a2424" opacity="0.7"/>
<rect x="310.4" y="103.8" width="3.2" height="14.5" rx="1" fill="#141010"/>
<rect x="316.6" y="103.8" width="1" height="14" fill="#2a2424" opacity="0.7"/>
<rect x="320.6" y="103.8" width="3.2" height="14.5" rx="1" fill="#141010"/>
<rect x="326.8" y="103.8" width="1" height="14" fill="#2a2424" opacity="0.7"/>
<rect x="223.3" y="103.8" width="98.7" height="2" fill="#141010" opacity="0.8"/>
<g filter="url(#tex)">
<rect x="238.4" y="103.8" width="3.2" height="5.2" fill="#aaa5a0"/>
<rect x="239.0" y="168.0" width="2" height="12" fill="#9a9592"/>
<path d="M233.0,165.5 l-7,5 l1.5,1.5 l7,-3 Z" fill="#b0aba7"/>
<path d="M247.0,165.5 l7,5 l-1.5,1.5 l-7,-3 Z" fill="#b0aba7"/>
<path d="M240.0,104.7 L240.1,104.8 L240.3,105.0 L240.5,105.2 L240.7,105.4 L241.0,105.7 L241.2,106.0 L241.3,106.4 L241.5,106.9 L241.6,107.5 L241.7,108.1 L241.9,108.6 L242.0,109.2 L242.2,109.7 L242.4,110.2 L242.5,110.7 L242.7,111.2 L242.9,111.8 L243.2,112.4 L243.5,113.1 L243.9,114.0 L244.3,114.9 L244.7,115.8 L245.1,116.7 L245.5,117.5 L245.9,118.3 L246.2,119.1 L246.5,119.8 L246.8,120.5 L247.1,121.3 L247.4,122.0 L247.7,122.7 L248.0,123.5 L248.2,124.2 L248.5,125.0 L248.7,125.7 L249.0,126.5 L249.2,127.2 L249.4,127.9 L249.6,128.6 L249.8,129.4 L250.0,130.1 L250.2,131.0 L250.4,131.8 L250.6,132.7 L250.8,133.6 L250.9,134.6 L251.1,135.6 L251.3,136.7 L251.4,137.9 L251.6,139.1 L251.7,140.4 L251.9,141.8 L252.0,143.1 L252.2,144.4 L252.3,145.7 L252.4,147.0 L252.5,148.2 L252.6,149.5 L252.7,150.8 L252.8,152.1 L252.8,153.4 L252.9,154.7 L252.9,156.1 L252.9,157.4 L252.9,158.6 L252.8,159.8 L252.7,160.8 L252.6,161.7 L252.5,162.6 L252.3,163.4 L252.2,164.2 L251.9,164.9 L251.6,165.5 L251.3,166.1 L250.9,166.7 L250.5,167.2 L250.0,167.6 L249.5,168.1 L248.8,168.5 L248.0,168.9 L247.1,169.2 L246.3,169.5 L245.6,169.8 L245.1,170.0 L240.0,171.5 L234.9,170.0 L234.4,169.8 L233.7,169.5 L232.9,169.2 L232.0,168.9 L231.2,168.5 L230.5,168.1 L230.0,167.6 L229.5,167.2 L229.1,166.7 L228.7,166.1 L228.4,165.5 L228.1,164.9 L227.8,164.2 L227.7,163.4 L227.5,162.6 L227.4,161.7 L227.3,160.8 L227.2,159.8 L227.1,158.6 L227.1,157.4 L227.1,156.1 L227.1,154.7 L227.2,153.4 L227.2,152.1 L227.3,150.8 L227.4,149.5 L227.5,148.2 L227.6,147.0 L227.7,145.7 L227.8,144.4 L228.0,143.1 L228.1,141.8 L228.3,140.4 L228.4,139.1 L228.6,137.9 L228.7,136.7 L228.9,135.6 L229.1,134.6 L229.2,133.6 L229.4,132.7 L229.6,131.8 L229.8,131.0 L230.0,130.1 L230.2,129.4 L230.4,128.6 L230.6,127.9 L230.8,127.2 L231.0,126.5 L231.3,125.7 L231.5,125.0 L231.8,124.2 L232.0,123.5 L232.3,122.7 L232.6,122.0 L232.9,121.3 L233.2,120.5 L233.5,119.8 L233.8,119.1 L234.1,118.3 L234.5,117.5 L234.9,116.7 L235.3,115.8 L235.7,114.9 L236.1,114.0 L236.5,113.1 L236.8,112.4 L237.1,111.8 L237.3,111.2 L237.5,110.7 L237.6,110.2 L237.8,109.7 L238.0,109.2 L238.1,108.6 L238.3,108.1 L238.4,107.5 L238.5,106.9 L238.7,106.4 L238.8,106.0 L239.0,105.7 L239.3,105.4 L239.5,105.2 L239.7,105.0 L239.9,104.8 L240.0,104.7Z" fill="url(#mouseg2)"/>
<path d="M240.0,104.7 L240.1,104.8 L240.3,105.0 L240.5,105.2 L240.7,105.4 L241.0,105.7 L241.2,106.0 L241.3,106.4 L241.5,106.9 L241.6,107.5 L241.7,108.1 L241.9,108.6 L242.0,109.2 L242.2,109.7 L242.4,110.2 L242.5,110.7 L242.7,111.2 L242.9,111.8 L243.2,112.4 L243.5,113.1 L243.9,114.0 L244.3,114.9 L244.7,115.8 L245.1,116.7 L245.5,117.5 L245.9,118.3 L246.2,119.1 L246.5,119.8 L246.8,120.5 L247.1,121.3 L247.4,122.0 L247.7,122.7 L248.0,123.5 L248.2,124.2 L248.5,125.0 L248.7,125.7 L249.0,126.5 L249.2,127.2 L249.4,127.9 L249.6,128.6 L249.8,129.4 L250.0,130.1 L250.2,131.0 L250.4,131.8 L250.6,132.7 L250.8,133.6 L250.9,134.6 L251.1,135.6 L251.3,136.7 L251.4,137.9 L251.6,139.1 L251.7,140.4 L251.9,141.8 L252.0,143.1 L252.2,144.4 L252.3,145.7 L252.4,147.0 L252.5,148.2 L252.6,149.5 L252.7,150.8 L252.8,152.1 L252.8,153.4 L252.9,154.7 L252.9,156.1 L252.9,157.4 L252.9,158.6 L252.8,159.8 L252.7,160.8 L252.6,161.7 L252.5,162.6 L252.3,163.4 L252.2,164.2 L251.9,164.9 L251.6,165.5 L251.3,166.1 L250.9,166.7 L250.5,167.2 L250.0,167.6 L249.5,168.1 L248.8,168.5 L248.0,168.9 L247.1,169.2 L246.3,169.5 L245.6,169.8 L245.1,170.0 L240.0,171.5 L234.9,170.0 L234.4,169.8 L233.7,169.5 L232.9,169.2 L232.0,168.9 L231.2,168.5 L230.5,168.1 L230.0,167.6 L229.5,167.2 L229.1,166.7 L228.7,166.1 L228.4,165.5 L228.1,164.9 L227.8,164.2 L227.7,163.4 L227.5,162.6 L227.4,161.7 L227.3,160.8 L227.2,159.8 L227.1,158.6 L227.1,157.4 L227.1,156.1 L227.1,154.7 L227.2,153.4 L227.2,152.1 L227.3,150.8 L227.4,149.5 L227.5,148.2 L227.6,147.0 L227.7,145.7 L227.8,144.4 L228.0,143.1 L228.1,141.8 L228.3,140.4 L228.4,139.1 L228.6,137.9 L228.7,136.7 L228.9,135.6 L229.1,134.6 L229.2,133.6 L229.4,132.7 L229.6,131.8 L229.8,131.0 L230.0,130.1 L230.2,129.4 L230.4,128.6 L230.6,127.9 L230.8,127.2 L231.0,126.5 L231.3,125.7 L231.5,125.0 L231.8,124.2 L232.0,123.5 L232.3,122.7 L232.6,122.0 L232.9,121.3 L233.2,120.5 L233.5,119.8 L233.8,119.1 L234.1,118.3 L234.5,117.5 L234.9,116.7 L235.3,115.8 L235.7,114.9 L236.1,114.0 L236.5,113.1 L236.8,112.4 L237.1,111.8 L237.3,111.2 L237.5,110.7 L237.6,110.2 L237.8,109.7 L238.0,109.2 L238.1,108.6 L238.3,108.1 L238.4,107.5 L238.5,106.9 L238.7,106.4 L238.8,106.0 L239.0,105.7 L239.3,105.4 L239.5,105.2 L239.7,105.0 L239.9,104.8 L240.0,104.7Z" fill="url(#mouseedge)"/>
<rect x="267.4" y="103.8" width="3.2" height="5.2" fill="#aaa5a0"/>
<rect x="268.0" y="168.0" width="2" height="12" fill="#9a9592"/>
<path d="M261.1,165.5 l-7,5 l1.5,1.5 l7,-3 Z" fill="#b0aba7"/>
<path d="M276.9,165.5 l7,5 l-1.5,1.5 l-7,-3 Z" fill="#b0aba7"/>
<path d="M269.0,104.7 L269.1,104.8 L269.3,105.0 L269.6,105.2 L269.8,105.4 L270.1,105.7 L270.3,106.0 L270.5,106.4 L270.6,106.9 L270.8,107.5 L270.9,108.1 L271.1,108.6 L271.3,109.2 L271.5,109.7 L271.6,110.2 L271.8,110.7 L272.0,111.2 L272.3,111.8 L272.6,112.4 L272.9,113.1 L273.4,114.0 L273.8,114.9 L274.3,115.8 L274.7,116.7 L275.1,117.5 L275.5,118.3 L275.9,119.1 L276.3,119.8 L276.6,120.5 L277.0,121.3 L277.3,122.0 L277.6,122.7 L277.9,123.5 L278.2,124.2 L278.5,125.0 L278.7,125.7 L279.0,126.5 L279.3,127.2 L279.5,127.9 L279.8,128.6 L280.0,129.4 L280.2,130.1 L280.4,131.0 L280.6,131.8 L280.8,132.7 L281.0,133.6 L281.2,134.6 L281.4,135.6 L281.6,136.7 L281.8,137.9 L281.9,139.1 L282.1,140.4 L282.3,141.8 L282.4,143.1 L282.6,144.4 L282.7,145.7 L282.9,147.0 L283.0,148.2 L283.1,149.5 L283.2,150.8 L283.3,152.1 L283.4,153.4 L283.4,154.7 L283.4,156.1 L283.4,157.4 L283.4,158.6 L283.3,159.8 L283.2,160.8 L283.1,161.7 L283.0,162.6 L282.8,163.4 L282.6,164.2 L282.3,164.9 L282.0,165.5 L281.6,166.1 L281.2,166.7 L280.7,167.2 L280.2,167.6 L279.6,168.1 L278.8,168.5 L277.9,168.9 L277.0,169.2 L276.1,169.5 L275.3,169.8 L274.7,170.0 L269.0,171.5 L263.3,170.0 L262.7,169.8 L261.9,169.5 L261.0,169.2 L260.1,168.9 L259.2,168.5 L258.4,168.1 L257.8,167.6 L257.3,167.2 L256.8,166.7 L256.4,166.1 L256.0,165.5 L255.7,164.9 L255.4,164.2 L255.2,163.4 L255.0,162.6 L254.9,161.7 L254.8,160.8 L254.7,159.8 L254.6,158.6 L254.6,157.4 L254.6,156.1 L254.6,154.7 L254.6,153.4 L254.7,152.1 L254.8,150.8 L254.9,149.5 L255.0,148.2 L255.1,147.0 L255.3,145.7 L255.4,144.4 L255.6,143.1 L255.7,141.8 L255.9,140.4 L256.1,139.1 L256.2,137.9 L256.4,136.7 L256.6,135.6 L256.8,134.6 L257.0,133.6 L257.2,132.7 L257.4,131.8 L257.6,131.0 L257.8,130.1 L258.0,129.4 L258.2,128.6 L258.5,127.9 L258.7,127.2 L259.0,126.5 L259.3,125.7 L259.5,125.0 L259.8,124.2 L260.1,123.5 L260.4,122.7 L260.7,122.0 L261.0,121.3 L261.4,120.5 L261.7,119.8 L262.1,119.1 L262.5,118.3 L262.9,117.5 L263.3,116.7 L263.7,115.8 L264.2,114.9 L264.6,114.0 L265.1,113.1 L265.4,112.4 L265.7,111.8 L266.0,111.2 L266.2,110.7 L266.4,110.2 L266.5,109.7 L266.7,109.2 L266.9,108.6 L267.1,108.1 L267.2,107.5 L267.4,106.9 L267.5,106.4 L267.7,106.0 L267.9,105.7 L268.2,105.4 L268.4,105.2 L268.7,105.0 L268.9,104.8 L269.0,104.7Z" fill="url(#mouseg2)"/>
<path d="M269.0,104.7 L269.1,104.8 L269.3,105.0 L269.6,105.2 L269.8,105.4 L270.1,105.7 L270.3,106.0 L270.5,106.4 L270.6,106.9 L270.8,107.5 L270.9,108.1 L271.1,108.6 L271.3,109.2 L271.5,109.7 L271.6,110.2 L271.8,110.7 L272.0,111.2 L272.3,111.8 L272.6,112.4 L272.9,113.1 L273.4,114.0 L273.8,114.9 L274.3,115.8 L274.7,116.7 L275.1,117.5 L275.5,118.3 L275.9,119.1 L276.3,119.8 L276.6,120.5 L277.0,121.3 L277.3,122.0 L277.6,122.7 L277.9,123.5 L278.2,124.2 L278.5,125.0 L278.7,125.7 L279.0,126.5 L279.3,127.2 L279.5,127.9 L279.8,128.6 L280.0,129.4 L280.2,130.1 L280.4,131.0 L280.6,131.8 L280.8,132.7 L281.0,133.6 L281.2,134.6 L281.4,135.6 L281.6,136.7 L281.8,137.9 L281.9,139.1 L282.1,140.4 L282.3,141.8 L282.4,143.1 L282.6,144.4 L282.7,145.7 L282.9,147.0 L283.0,148.2 L283.1,149.5 L283.2,150.8 L283.3,152.1 L283.4,153.4 L283.4,154.7 L283.4,156.1 L283.4,157.4 L283.4,158.6 L283.3,159.8 L283.2,160.8 L283.1,161.7 L283.0,162.6 L282.8,163.4 L282.6,164.2 L282.3,164.9 L282.0,165.5 L281.6,166.1 L281.2,166.7 L280.7,167.2 L280.2,167.6 L279.6,168.1 L278.8,168.5 L277.9,168.9 L277.0,169.2 L276.1,169.5 L275.3,169.8 L274.7,170.0 L269.0,171.5 L263.3,170.0 L262.7,169.8 L261.9,169.5 L261.0,169.2 L260.1,168.9 L259.2,168.5 L258.4,168.1 L257.8,167.6 L257.3,167.2 L256.8,166.7 L256.4,166.1 L256.0,165.5 L255.7,164.9 L255.4,164.2 L255.2,163.4 L255.0,162.6 L254.9,161.7 L254.8,160.8 L254.7,159.8 L254.6,158.6 L254.6,157.4 L254.6,156.1 L254.6,154.7 L254.6,153.4 L254.7,152.1 L254.8,150.8 L254.9,149.5 L255.0,148.2 L255.1,147.0 L255.3,145.7 L255.4,144.4 L255.6,143.1 L255.7,141.8 L255.9,140.4 L256.1,139.1 L256.2,137.9 L256.4,136.7 L256.6,135.6 L256.8,134.6 L257.0,133.6 L257.2,132.7 L257.4,131.8 L257.6,131.0 L257.8,130.1 L258.0,129.4 L258.2,128.6 L258.5,127.9 L258.7,127.2 L259.0,126.5 L259.3,125.7 L259.5,125.0 L259.8,124.2 L260.1,123.5 L260.4,122.7 L260.7,122.0 L261.0,121.3 L261.4,120.5 L261.7,119.8 L262.1,119.1 L262.5,118.3 L262.9,117.5 L263.3,116.7 L263.7,115.8 L264.2,114.9 L264.6,114.0 L265.1,113.1 L265.4,112.4 L265.7,111.8 L266.0,111.2 L266.2,110.7 L266.4,110.2 L266.5,109.7 L266.7,109.2 L266.9,108.6 L267.1,108.1 L267.2,107.5 L267.4,106.9 L267.5,106.4 L267.7,106.0 L267.9,105.7 L268.2,105.4 L268.4,105.2 L268.7,105.0 L268.9,104.8 L269.0,104.7Z" fill="url(#mouseedge)"/>
<rect x="302.4" y="103.8" width="3.2" height="5.2" fill="#aaa5a0"/>
<rect x="303.0" y="167.0" width="2" height="12" fill="#9a9592"/>
<path d="M296.4,164.6 l-7,5 l1.5,1.5 l7,-3 Z" fill="#b0aba7"/>
<path d="M311.6,164.6 l7,5 l-1.5,1.5 l-7,-3 Z" fill="#b0aba7"/>
<path d="M304.0,104.7 L304.1,104.9 L304.3,105.0 L304.6,105.2 L304.8,105.4 L305.0,105.7 L305.2,106.0 L305.4,106.4 L305.6,106.9 L305.7,107.5 L305.9,108.0 L306.0,108.6 L306.2,109.2 L306.4,109.7 L306.6,110.1 L306.7,110.6 L306.9,111.1 L307.2,111.7 L307.4,112.3 L307.8,113.0 L308.2,113.9 L308.6,114.7 L309.1,115.6 L309.5,116.5 L309.9,117.3 L310.3,118.1 L310.7,118.9 L311.0,119.6 L311.4,120.3 L311.7,121.0 L312.0,121.8 L312.3,122.5 L312.6,123.2 L312.9,124.0 L313.1,124.7 L313.4,125.4 L313.7,126.2 L313.9,126.9 L314.2,127.6 L314.4,128.3 L314.6,129.0 L314.8,129.8 L315.0,130.6 L315.2,131.4 L315.4,132.3 L315.6,133.2 L315.8,134.2 L316.0,135.2 L316.1,136.2 L316.3,137.4 L316.5,138.6 L316.7,139.9 L316.8,141.2 L317.0,142.5 L317.1,143.8 L317.2,145.1 L317.4,146.3 L317.5,147.6 L317.6,148.8 L317.7,150.1 L317.8,151.4 L317.9,152.6 L317.9,154.0 L317.9,155.3 L317.9,156.6 L317.9,157.8 L317.8,158.9 L317.7,159.9 L317.6,160.9 L317.5,161.7 L317.3,162.5 L317.1,163.3 L316.8,164.0 L316.5,164.6 L316.2,165.2 L315.8,165.7 L315.3,166.2 L314.8,166.7 L314.2,167.1 L313.5,167.5 L312.6,167.9 L311.7,168.3 L310.8,168.6 L310.1,168.8 L309.5,169.0 L304.0,170.5 L298.5,169.0 L297.9,168.8 L297.2,168.6 L296.3,168.3 L295.4,167.9 L294.5,167.5 L293.8,167.1 L293.2,166.7 L292.7,166.2 L292.2,165.7 L291.8,165.2 L291.5,164.6 L291.2,164.0 L290.9,163.3 L290.7,162.5 L290.5,161.7 L290.4,160.9 L290.3,159.9 L290.2,158.9 L290.1,157.8 L290.1,156.6 L290.1,155.3 L290.1,154.0 L290.1,152.6 L290.2,151.4 L290.3,150.1 L290.4,148.8 L290.5,147.6 L290.6,146.3 L290.8,145.1 L290.9,143.8 L291.0,142.5 L291.2,141.2 L291.3,139.9 L291.5,138.6 L291.7,137.4 L291.9,136.2 L292.0,135.2 L292.2,134.2 L292.4,133.2 L292.6,132.3 L292.8,131.4 L293.0,130.6 L293.2,129.8 L293.4,129.0 L293.6,128.3 L293.8,127.6 L294.1,126.9 L294.3,126.2 L294.6,125.4 L294.9,124.7 L295.1,124.0 L295.4,123.2 L295.7,122.5 L296.0,121.8 L296.3,121.0 L296.6,120.3 L297.0,119.6 L297.3,118.9 L297.7,118.1 L298.1,117.3 L298.5,116.5 L298.9,115.6 L299.4,114.7 L299.8,113.9 L300.2,113.0 L300.6,112.3 L300.8,111.7 L301.1,111.1 L301.3,110.6 L301.4,110.1 L301.6,109.7 L301.8,109.2 L302.0,108.6 L302.1,108.0 L302.3,107.5 L302.4,106.9 L302.6,106.4 L302.8,106.0 L303.0,105.7 L303.2,105.4 L303.4,105.2 L303.7,105.0 L303.9,104.9 L304.0,104.7Z" fill="url(#mouseg2)"/>
<path d="M304.0,104.7 L304.1,104.9 L304.3,105.0 L304.6,105.2 L304.8,105.4 L305.0,105.7 L305.2,106.0 L305.4,106.4 L305.6,106.9 L305.7,107.5 L305.9,108.0 L306.0,108.6 L306.2,109.2 L306.4,109.7 L306.6,110.1 L306.7,110.6 L306.9,111.1 L307.2,111.7 L307.4,112.3 L307.8,113.0 L308.2,113.9 L308.6,114.7 L309.1,115.6 L309.5,116.5 L309.9,117.3 L310.3,118.1 L310.7,118.9 L311.0,119.6 L311.4,120.3 L311.7,121.0 L312.0,121.8 L312.3,122.5 L312.6,123.2 L312.9,124.0 L313.1,124.7 L313.4,125.4 L313.7,126.2 L313.9,126.9 L314.2,127.6 L314.4,128.3 L314.6,129.0 L314.8,129.8 L315.0,130.6 L315.2,131.4 L315.4,132.3 L315.6,133.2 L315.8,134.2 L316.0,135.2 L316.1,136.2 L316.3,137.4 L316.5,138.6 L316.7,139.9 L316.8,141.2 L317.0,142.5 L317.1,143.8 L317.2,145.1 L317.4,146.3 L317.5,147.6 L317.6,148.8 L317.7,150.1 L317.8,151.4 L317.9,152.6 L317.9,154.0 L317.9,155.3 L317.9,156.6 L317.9,157.8 L317.8,158.9 L317.7,159.9 L317.6,160.9 L317.5,161.7 L317.3,162.5 L317.1,163.3 L316.8,164.0 L316.5,164.6 L316.2,165.2 L315.8,165.7 L315.3,166.2 L314.8,166.7 L314.2,167.1 L313.5,167.5 L312.6,167.9 L311.7,168.3 L310.8,168.6 L310.1,168.8 L309.5,169.0 L304.0,170.5 L298.5,169.0 L297.9,168.8 L297.2,168.6 L296.3,168.3 L295.4,167.9 L294.5,167.5 L293.8,167.1 L293.2,166.7 L292.7,166.2 L292.2,165.7 L291.8,165.2 L291.5,164.6 L291.2,164.0 L290.9,163.3 L290.7,162.5 L290.5,161.7 L290.4,160.9 L290.3,159.9 L290.2,158.9 L290.1,157.8 L290.1,156.6 L290.1,155.3 L290.1,154.0 L290.1,152.6 L290.2,151.4 L290.3,150.1 L290.4,148.8 L290.5,147.6 L290.6,146.3 L290.8,145.1 L290.9,143.8 L291.0,142.5 L291.2,141.2 L291.3,139.9 L291.5,138.6 L291.7,137.4 L291.9,136.2 L292.0,135.2 L292.2,134.2 L292.4,133.2 L292.6,132.3 L292.8,131.4 L293.0,130.6 L293.2,129.8 L293.4,129.0 L293.6,128.3 L293.8,127.6 L294.1,126.9 L294.3,126.2 L294.6,125.4 L294.9,124.7 L295.1,124.0 L295.4,123.2 L295.7,122.5 L296.0,121.8 L296.3,121.0 L296.6,120.3 L297.0,119.6 L297.3,118.9 L297.7,118.1 L298.1,117.3 L298.5,116.5 L298.9,115.6 L299.4,114.7 L299.8,113.9 L300.2,113.0 L300.6,112.3 L300.8,111.7 L301.1,111.1 L301.3,110.6 L301.4,110.1 L301.6,109.7 L301.8,109.2 L302.0,108.6 L302.1,108.0 L302.3,107.5 L302.4,106.9 L302.6,106.4 L302.8,106.0 L303.0,105.7 L303.2,105.4 L303.4,105.2 L303.7,105.0 L303.9,104.9 L304.0,104.7Z" fill="url(#mouseedge)"/>
</g>
<g filter="url(#soft)">
<ellipse cx="239.0" cy="134.0" rx="3.0" ry="2.7" fill="#4429ad"/>
<ellipse cx="270.0" cy="139.0" rx="2.0" ry="2.0" fill="#4429ad"/>
<ellipse cx="278.0" cy="139.0" rx="2.3" ry="3.0" fill="#4429ad"/>
<path d="M224.5,153 Q226,149 230,152 L233,158 Q238,152 243,150 L249,151 Q252.5,155 250,160 L244,168 Q240,174.5 236,172 L229,163 Q224,158 224.5,153 Z" fill="url(#bfill)"/>
<path d="M251.4,153 Q253,148.5 261.2,148.5 L274.3,150.5 Q279.5,152 278.9,155.7 Q277,160 271.7,164.8 Q268,171 265.1,172 Q262,170 258.6,163.5 Q252,158 251.4,153 Z" fill="url(#bfill)"/>
<path d="M299.4,159 Q303,156.5 307.6,157 Q311,153 314.8,152.3 Q318.5,153 318.4,157.4 Q318,162 314.8,166.7 Q311,171 307.6,172.8 L303.5,177.4 Q301,172 297.5,166 Q296.5,161 299.4,159 Z" fill="url(#bfill)"/>
<ellipse cx="244.9" cy="156.3" rx="4.2" ry="4.0" fill="url(#blobg)"/>
<ellipse cx="264.5" cy="159.0" rx="3.8" ry="3.6" fill="url(#blob)"/>
<ellipse cx="274.3" cy="155.7" rx="4.2" ry="4.0" fill="url(#blobg)"/>
<ellipse cx="265.1" cy="166.8" rx="3.4" ry="3.0" fill="url(#blob)"/>
<ellipse cx="305.5" cy="166.9" rx="5.6" ry="5.4" fill="url(#blobg)"/>
<ellipse cx="241.6" cy="166.3" rx="0.8" ry="0.8" fill="#c0a0e0"/>
</g>
<rect x="223.8" y="104.3" width="97.7" height="73.7" fill="none" stroke="#1a1616" stroke-width="1"/>
</g>
<rect x="326.3" y="32.6" width="6.5" height="138.8" fill="url(#cbar)" stroke="#555" stroke-opacity="0.5" stroke-width="0.5"/>
<line x1="332.60" y1="162.80" x2="334.80" y2="162.80" stroke="#777" stroke-width="0.80" />
<line x1="332.60" y1="154.30" x2="334.80" y2="154.30" stroke="#777" stroke-width="0.80" />
<line x1="332.60" y1="145.80" x2="334.80" y2="145.80" stroke="#777" stroke-width="0.80" />
<line x1="332.60" y1="137.30" x2="334.80" y2="137.30" stroke="#777" stroke-width="0.80" />
<line x1="332.60" y1="128.80" x2="334.80" y2="128.80" stroke="#777" stroke-width="0.80" />
<line x1="332.60" y1="120.30" x2="334.80" y2="120.30" stroke="#777" stroke-width="0.80" />
<line x1="332.60" y1="111.80" x2="334.80" y2="111.80" stroke="#777" stroke-width="0.80" />
<line x1="332.60" y1="103.30" x2="334.80" y2="103.30" stroke="#777" stroke-width="0.80" />
<line x1="332.60" y1="94.80" x2="334.80" y2="94.80" stroke="#777" stroke-width="0.80" />
<line x1="332.60" y1="86.30" x2="334.80" y2="86.30" stroke="#777" stroke-width="0.80" />
<line x1="332.60" y1="77.80" x2="334.80" y2="77.80" stroke="#777" stroke-width="0.80" />
<line x1="332.60" y1="69.30" x2="334.80" y2="69.30" stroke="#777" stroke-width="0.80" />
<line x1="332.60" y1="60.80" x2="334.80" y2="60.80" stroke="#777" stroke-width="0.80" />
<line x1="332.60" y1="52.30" x2="334.80" y2="52.30" stroke="#777" stroke-width="0.80" />
<line x1="332.60" y1="43.80" x2="334.80" y2="43.80" stroke="#777" stroke-width="0.80" />
<line x1="332.60" y1="35.30" x2="334.80" y2="35.30" stroke="#777" stroke-width="0.80" />
<text x="339.60" y="46.30" font-size="7.20" text-anchor="start" fill="#1a1a1a" font-weight="normal" stroke="#1a1a1a" stroke-width="0.14" letter-spacing="0.35">6000</text>
<text x="339.60" y="88.80" font-size="7.20" text-anchor="start" fill="#1a1a1a" font-weight="normal" stroke="#1a1a1a" stroke-width="0.14" letter-spacing="0.35">4000</text>
<text x="339.60" y="131.30" font-size="7.20" text-anchor="start" fill="#1a1a1a" font-weight="normal" stroke="#1a1a1a" stroke-width="0.14" letter-spacing="0.35">2000</text>
<text x="339.60" y="173.80" font-size="7.20" text-anchor="start" fill="#1a1a1a" font-weight="normal" stroke="#1a1a1a" stroke-width="0.14" letter-spacing="0.35">0</text>
<text x="393.80" y="15.80" font-size="10.40" text-anchor="start" fill="#000" font-weight="bold" stroke="#000" stroke-width="0.45" >C</text>
<line x1="428.20" y1="17.60" x2="428.20" y2="174.50" stroke="#1a1a1a" stroke-width="1.50" />
<line x1="424.00" y1="173.80" x2="514.60" y2="173.80" stroke="#1a1a1a" stroke-width="1.50" />
<line x1="424.20" y1="173.80" x2="428.20" y2="173.80" stroke="#1a1a1a" stroke-width="1.20" />
<text x="422.40" y="176.80" font-size="7.40" text-anchor="end" fill="#111" font-weight="normal" stroke="#111" stroke-width="0.14" >0</text>
<line x1="424.20" y1="137.20" x2="428.20" y2="137.20" stroke="#1a1a1a" stroke-width="1.20" />
<text x="422.40" y="140.20" font-size="7.40" text-anchor="end" fill="#111" font-weight="normal" stroke="#111" stroke-width="0.14" >2</text>
<line x1="424.20" y1="100.60" x2="428.20" y2="100.60" stroke="#1a1a1a" stroke-width="1.20" />
<text x="422.40" y="103.60" font-size="7.40" text-anchor="end" fill="#111" font-weight="normal" stroke="#111" stroke-width="0.14" >4</text>
<line x1="424.20" y1="64.00" x2="428.20" y2="64.00" stroke="#1a1a1a" stroke-width="1.20" />
<text x="422.40" y="67.00" font-size="7.40" text-anchor="end" fill="#111" font-weight="normal" stroke="#111" stroke-width="0.14" >6</text>
<line x1="424.20" y1="27.40" x2="428.20" y2="27.40" stroke="#1a1a1a" stroke-width="1.20" />
<text x="422.40" y="30.40" font-size="7.40" text-anchor="end" fill="#111" font-weight="normal" stroke="#111" stroke-width="0.14" >8</text>
<line x1="449.40" y1="173.80" x2="449.40" y2="177.30" stroke="#1a1a1a" stroke-width="1.30" />
<line x1="492.50" y1="173.80" x2="492.50" y2="177.30" stroke="#1a1a1a" stroke-width="1.30" />
<text x="449.40" y="188.10" font-size="7.40" text-anchor="middle" fill="#111" font-weight="normal" stroke="#111" stroke-width="0.14" >BJAB</text>
<text x="449.40" y="197.60" font-size="7.40" text-anchor="middle" fill="#111" font-weight="normal" stroke="#111" stroke-width="0.14" >Mock</text>
<text x="490.30" y="188.10" font-size="7.40" text-anchor="middle" fill="#111" font-weight="normal" stroke="#111" stroke-width="0.14" >BJAB</text>
<text x="490.30" y="197.60" font-size="7.40" text-anchor="middle" fill="#111" font-weight="normal" stroke="#111" stroke-width="0.14" >HGAL KO</text>
<text transform="translate(404.6,96.3) rotate(-90) scale(0.665,1)" font-size="8.7" font-weight="bold" text-anchor="middle" fill="#111">Number of tumors</text>
<line x1="449.00" y1="16.20" x2="464.80" y2="16.20" stroke="#1a1a1a" stroke-width="1.40" />
<line x1="476.90" y1="16.20" x2="493.10" y2="16.20" stroke="#1a1a1a" stroke-width="1.40" />
<text x="470.40" y="21.90" font-size="8.50" text-anchor="middle" fill="#111" font-weight="normal" stroke="#111" stroke-width="0.14" >**</text>
<circle cx="449.50" cy="100.60" r="2.15" fill="#c41230"/>
<circle cx="449.50" cy="118.90" r="2.15" fill="#c41230"/>
<circle cx="447.50" cy="137.20" r="2.15" fill="#c41230"/>
<circle cx="451.50" cy="137.20" r="2.15" fill="#c41230"/>
<circle cx="437.07" cy="155.50" r="2.15" fill="#c41230"/>
<circle cx="440.62" cy="155.50" r="2.15" fill="#c41230"/>
<circle cx="444.18" cy="155.50" r="2.15" fill="#c41230"/>
<circle cx="447.72" cy="155.50" r="2.15" fill="#c41230"/>
<circle cx="451.27" cy="155.50" r="2.15" fill="#c41230"/>
<circle cx="454.82" cy="155.50" r="2.15" fill="#c41230"/>
<circle cx="458.38" cy="155.50" r="2.15" fill="#c41230"/>
<circle cx="461.93" cy="155.50" r="2.15" fill="#c41230"/>
<line x1="449.50" y1="126.53" x2="449.50" y2="163.13" stroke="#c41230" stroke-width="1.40" />
<line x1="442.30" y1="126.53" x2="456.70" y2="126.53" stroke="#c41230" stroke-width="1.50" />
<line x1="442.30" y1="163.13" x2="456.70" y2="163.13" stroke="#c41230" stroke-width="1.50" />
<line x1="435.30" y1="144.83" x2="463.70" y2="144.83" stroke="#c41230" stroke-width="1.50" />
<circle cx="492.40" cy="27.40" r="2.15" fill="#0f4f8c"/>
<circle cx="487.07" cy="64.00" r="2.15" fill="#0f4f8c"/>
<circle cx="490.62" cy="64.00" r="2.15" fill="#0f4f8c"/>
<circle cx="494.18" cy="64.00" r="2.15" fill="#0f4f8c"/>
<circle cx="497.72" cy="64.00" r="2.15" fill="#0f4f8c"/>
<circle cx="492.40" cy="82.30" r="2.15" fill="#0f4f8c"/>
<circle cx="488.85" cy="100.60" r="2.15" fill="#0f4f8c"/>
<circle cx="492.40" cy="100.60" r="2.15" fill="#0f4f8c"/>
<circle cx="495.95" cy="100.60" r="2.15" fill="#0f4f8c"/>
<circle cx="479.97" cy="118.90" r="2.15" fill="#0f4f8c"/>
<circle cx="483.52" cy="118.90" r="2.15" fill="#0f4f8c"/>
<circle cx="487.07" cy="118.90" r="2.15" fill="#0f4f8c"/>
<circle cx="490.62" cy="118.90" r="2.15" fill="#0f4f8c"/>
<circle cx="494.17" cy="118.90" r="2.15" fill="#0f4f8c"/>
<circle cx="497.72" cy="118.90" r="2.15" fill="#0f4f8c"/>
<circle cx="501.27" cy="118.90" r="2.15" fill="#0f4f8c"/>
<circle cx="504.82" cy="118.90" r="2.15" fill="#0f4f8c"/>
<circle cx="492.40" cy="137.20" r="2.15" fill="#0f4f8c"/>
<circle cx="490.40" cy="155.50" r="2.15" fill="#0f4f8c"/>
<circle cx="494.40" cy="155.50" r="2.15" fill="#0f4f8c"/>
<line x1="492.40" y1="69.86" x2="492.40" y2="136.83" stroke="#0f4f8c" stroke-width="1.40" />
<line x1="485.20" y1="69.86" x2="499.60" y2="69.86" stroke="#0f4f8c" stroke-width="1.50" />
<line x1="485.20" y1="136.83" x2="499.60" y2="136.83" stroke="#0f4f8c" stroke-width="1.50" />
<line x1="478.20" y1="103.35" x2="506.60" y2="103.35" stroke="#0f4f8c" stroke-width="1.50" />
<text x="10.80" y="211.20" font-size="10.40" text-anchor="start" fill="#000" font-weight="bold" stroke="#000" stroke-width="0.45" >B</text>
<line x1="61.40" y1="221.90" x2="61.40" y2="361.60" stroke="#1a1a1a" stroke-width="1.50" />
<line x1="56.80" y1="356.00" x2="260.00" y2="356.00" stroke="#1a1a1a" stroke-width="1.50" />
<line x1="56.80" y1="222.60" x2="61.40" y2="222.60" stroke="#1a1a1a" stroke-width="1.30" />
<text x="54.40" y="225.05" font-size="7.00" text-anchor="end" fill="#111" font-weight="normal" stroke="#111" stroke-width="0.08" letter-spacing="0.62">100000</text>
<line x1="56.80" y1="244.80" x2="61.40" y2="244.80" stroke="#1a1a1a" stroke-width="1.30" />
<text x="54.40" y="247.25" font-size="7.00" text-anchor="end" fill="#111" font-weight="normal" stroke="#111" stroke-width="0.08" letter-spacing="0.62">10000</text>
<line x1="56.80" y1="267.00" x2="61.40" y2="267.00" stroke="#1a1a1a" stroke-width="1.30" />
<text x="54.40" y="269.45" font-size="7.00" text-anchor="end" fill="#111" font-weight="normal" stroke="#111" stroke-width="0.08" letter-spacing="0.62">1000</text>
<line x1="56.80" y1="289.20" x2="61.40" y2="289.20" stroke="#1a1a1a" stroke-width="1.30" />
<text x="54.40" y="291.65" font-size="7.00" text-anchor="end" fill="#111" font-weight="normal" stroke="#111" stroke-width="0.08" letter-spacing="0.62">100</text>
<line x1="56.80" y1="311.40" x2="61.40" y2="311.40" stroke="#1a1a1a" stroke-width="1.30" />
<text x="54.40" y="313.85" font-size="7.00" text-anchor="end" fill="#111" font-weight="normal" stroke="#111" stroke-width="0.08" letter-spacing="0.62">10</text>
<line x1="56.80" y1="333.60" x2="61.40" y2="333.60" stroke="#1a1a1a" stroke-width="1.30" />
<text x="54.40" y="336.05" font-size="7.00" text-anchor="end" fill="#111" font-weight="normal" stroke="#111" stroke-width="0.08" letter-spacing="0.62">1</text>
<line x1="56.80" y1="355.80" x2="61.40" y2="355.80" stroke="#1a1a1a" stroke-width="1.30" />
<text x="54.40" y="358.25" font-size="7.00" text-anchor="end" fill="#111" font-weight="normal" stroke="#111" stroke-width="0.08" letter-spacing="0.62">0.1</text>
<line x1="61.30" y1="356.00" x2="61.30" y2="361.60" stroke="#1a1a1a" stroke-width="1.30" />
<text x="61.30" y="369.00" font-size="6.80" text-anchor="middle" fill="#111" font-weight="normal" stroke="#111" stroke-width="0.14" >0</text>
<line x1="110.90" y1="356.00" x2="110.90" y2="361.60" stroke="#1a1a1a" stroke-width="1.30" />
<text x="110.90" y="369.00" font-size="6.80" text-anchor="middle" fill="#111" font-weight="normal" stroke="#111" stroke-width="0.14" >1</text>
<line x1="160.50" y1="356.00" x2="160.50" y2="361.60" stroke="#1a1a1a" stroke-width="1.30" />
<text x="160.50" y="369.00" font-size="6.80" text-anchor="middle" fill="#111" font-weight="normal" stroke="#111" stroke-width="0.14" >2</text>
<line x1="210.10" y1="356.00" x2="210.10" y2="361.60" stroke="#1a1a1a" stroke-width="1.30" />
<text x="210.10" y="369.00" font-size="6.80" text-anchor="middle" fill="#111" font-weight="normal" stroke="#111" stroke-width="0.14" >3</text>
<line x1="259.70" y1="356.00" x2="259.70" y2="361.60" stroke="#1a1a1a" stroke-width="1.30" />
<text x="259.70" y="369.00" font-size="6.80" text-anchor="middle" fill="#111" font-weight="normal" stroke="#111" stroke-width="0.14" >4</text>
<text transform="translate(160.4,383.8) scale(0.72,1)" font-size="7.9" font-weight="bold" text-anchor="middle" fill="#111">Weeks</text>
<text transform="translate(22.3,284.8) rotate(-90) scale(0.6,1)" font-size="8.5" font-weight="bold" text-anchor="middle" fill="#111">Normalized photon flux</text>
<line x1="61.30" y1="288.00" x2="61.30" y2="296.40" stroke="#15558f" stroke-width="1.20" />
<line x1="58.70" y1="288.00" x2="63.90" y2="288.00" stroke="#15558f" stroke-width="1.20" />
<line x1="58.70" y1="296.40" x2="63.90" y2="296.40" stroke="#15558f" stroke-width="1.20" />
<line x1="110.90" y1="305.60" x2="110.90" y2="311.50" stroke="#15558f" stroke-width="1.20" />
<line x1="108.30" y1="305.60" x2="113.50" y2="305.60" stroke="#15558f" stroke-width="1.20" />
<line x1="108.30" y1="311.50" x2="113.50" y2="311.50" stroke="#15558f" stroke-width="1.20" />
<line x1="160.50" y1="288.20" x2="160.50" y2="296.80" stroke="#15558f" stroke-width="1.20" />
<line x1="157.90" y1="288.20" x2="163.10" y2="288.20" stroke="#15558f" stroke-width="1.20" />
<line x1="157.90" y1="296.80" x2="163.10" y2="296.80" stroke="#15558f" stroke-width="1.20" />
<line x1="210.10" y1="263.00" x2="210.10" y2="269.20" stroke="#15558f" stroke-width="1.20" />
<line x1="207.50" y1="263.00" x2="212.70" y2="263.00" stroke="#15558f" stroke-width="1.20" />
<line x1="207.50" y1="269.20" x2="212.70" y2="269.20" stroke="#15558f" stroke-width="1.20" />
<line x1="259.70" y1="225.80" x2="259.70" y2="235.00" stroke="#15558f" stroke-width="1.20" />
<line x1="257.10" y1="225.80" x2="262.30" y2="225.80" stroke="#15558f" stroke-width="1.20" />
<line x1="257.10" y1="235.00" x2="262.30" y2="235.00" stroke="#15558f" stroke-width="1.20" />
<polyline points="61.3,290.5 110.9,308.6 160.5,291.6 210.1,265.3 259.7,229.2" fill="none" stroke="#15558f" stroke-width="1.30"/>
<circle cx="61.3" cy="290.5" r="2.8" fill="#15558f"/>
<circle cx="110.9" cy="308.6" r="2.8" fill="#15558f"/>
<circle cx="160.5" cy="291.6" r="2.8" fill="#15558f"/>
<circle cx="210.1" cy="265.3" r="2.8" fill="#15558f"/>
<circle cx="259.7" cy="229.2" r="2.8" fill="#15558f"/>
<line x1="61.30" y1="287.00" x2="61.30" y2="293.50" stroke="#c41230" stroke-width="1.20" />
<line x1="58.70" y1="287.00" x2="63.90" y2="287.00" stroke="#c41230" stroke-width="1.20" />
<line x1="58.70" y1="293.50" x2="63.90" y2="293.50" stroke="#c41230" stroke-width="1.20" />
<line x1="110.90" y1="308.50" x2="110.90" y2="313.80" stroke="#c41230" stroke-width="1.20" />
<line x1="108.30" y1="308.50" x2="113.50" y2="308.50" stroke="#c41230" stroke-width="1.20" />
<line x1="108.30" y1="313.80" x2="113.50" y2="313.80" stroke="#c41230" stroke-width="1.20" />
<line x1="160.50" y1="302.00" x2="160.50" y2="309.40" stroke="#c41230" stroke-width="1.20" />
<line x1="157.90" y1="302.00" x2="163.10" y2="302.00" stroke="#c41230" stroke-width="1.20" />
<line x1="157.90" y1="309.40" x2="163.10" y2="309.40" stroke="#c41230" stroke-width="1.20" />
<line x1="210.10" y1="298.50" x2="210.10" y2="306.70" stroke="#c41230" stroke-width="1.20" />
<line x1="207.50" y1="298.50" x2="212.70" y2="298.50" stroke="#c41230" stroke-width="1.20" />
<line x1="207.50" y1="306.70" x2="212.70" y2="306.70" stroke="#c41230" stroke-width="1.20" />
<line x1="259.70" y1="290.00" x2="259.70" y2="297.80" stroke="#c41230" stroke-width="1.20" />
<line x1="257.10" y1="290.00" x2="262.30" y2="290.00" stroke="#c41230" stroke-width="1.20" />
<line x1="257.10" y1="297.80" x2="262.30" y2="297.80" stroke="#c41230" stroke-width="1.20" />
<polyline points="61.3,288.7 110.9,310.3 160.5,304.3 210.1,300.5 259.7,292.3" fill="none" stroke="#c41230" stroke-width="1.15"/>
<rect x="58.6" y="286.0" width="5.4" height="5.4" fill="#c41230"/>
<rect x="108.2" y="307.6" width="5.4" height="5.4" fill="#c41230"/>
<rect x="157.8" y="301.6" width="5.4" height="5.4" fill="#c41230"/>
<rect x="207.4" y="297.8" width="5.4" height="5.4" fill="#c41230"/>
<rect x="257.0" y="289.6" width="5.4" height="5.4" fill="#c41230"/>
<polyline points="61.3,336.0 110.9,337.1 160.5,338.2 210.1,337.3 259.7,336.9" fill="none" stroke="#3bb54a" stroke-width="1.05"/>
<path d="M61.3,332.9 L64.4,338.4 L58.2,338.4 Z" fill="#3bb54a"/>
<path d="M110.9,334.0 L114.0,339.5 L107.8,339.5 Z" fill="#3bb54a"/>
<path d="M160.5,335.1 L163.6,340.6 L157.4,340.6 Z" fill="#3bb54a"/>
<path d="M210.1,334.2 L213.2,339.7 L207.0,339.7 Z" fill="#3bb54a"/>
<path d="M259.7,333.8 L262.8,339.3 L256.6,339.3 Z" fill="#3bb54a"/>
<line x1="74.20" y1="234.20" x2="88.10" y2="234.20" stroke="#3bb54a" stroke-width="1.30" />
<path d="M81.2,231.1 L84.3,236.6 L78.1,236.6 Z" fill="#3bb54a"/>
<text x="93.50" y="236.70" font-size="7.00" text-anchor="start" fill="#111" font-weight="normal" stroke="#111" stroke-width="0.14" >Background</text>
<line x1="74.20" y1="249.40" x2="88.10" y2="249.40" stroke="#c41230" stroke-width="1.30" />
<rect x="78.5" y="246.7" width="5.4" height="5.4" fill="#c41230"/>
<text x="93.50" y="251.90" font-size="7.00" text-anchor="start" fill="#111" font-weight="normal" stroke="#111" stroke-width="0.14" >BJAB Mock</text>
<line x1="74.20" y1="264.40" x2="88.10" y2="264.40" stroke="#15558f" stroke-width="1.30" />
<circle cx="81.2" cy="264.4" r="2.8" fill="#15558f"/>
<text x="93.50" y="266.90" font-size="7.00" text-anchor="start" fill="#111" font-weight="normal" stroke="#111" stroke-width="0.14" >BJAB HGAL KO</text>
<text x="293.50" y="211.10" font-size="10.40" text-anchor="start" fill="#000" font-weight="bold" stroke="#000" stroke-width="0.45" >D</text>
<line x1="335.20" y1="228.20" x2="335.20" y2="351.80" stroke="#1a1a1a" stroke-width="1.50" />
<line x1="330.80" y1="347.10" x2="513.10" y2="347.10" stroke="#1a1a1a" stroke-width="1.50" />
<line x1="330.90" y1="347.10" x2="335.20" y2="347.10" stroke="#1a1a1a" stroke-width="1.30" />
<line x1="332.30" y1="335.28" x2="335.20" y2="335.28" stroke="#1a1a1a" stroke-width="1.30" />
<line x1="332.30" y1="323.46" x2="335.20" y2="323.46" stroke="#1a1a1a" stroke-width="1.30" />
<line x1="332.30" y1="311.64" x2="335.20" y2="311.64" stroke="#1a1a1a" stroke-width="1.30" />
<line x1="332.30" y1="299.82" x2="335.20" y2="299.82" stroke="#1a1a1a" stroke-width="1.30" />
<line x1="330.90" y1="288.00" x2="335.20" y2="288.00" stroke="#1a1a1a" stroke-width="1.30" />
<line x1="332.30" y1="276.18" x2="335.20" y2="276.18" stroke="#1a1a1a" stroke-width="1.30" />
<line x1="332.30" y1="264.36" x2="335.20" y2="264.36" stroke="#1a1a1a" stroke-width="1.30" />
<line x1="332.30" y1="252.54" x2="335.20" y2="252.54" stroke="#1a1a1a" stroke-width="1.30" />
<line x1="332.30" y1="240.72" x2="335.20" y2="240.72" stroke="#1a1a1a" stroke-width="1.30" />
<line x1="330.90" y1="228.90" x2="335.20" y2="228.90" stroke="#1a1a1a" stroke-width="1.30" />
<text x="328.60" y="231.30" font-size="6.80" text-anchor="end" fill="#111" font-weight="normal" stroke="#111" stroke-width="0.14" letter-spacing="0.35">100</text>
<text x="328.60" y="290.40" font-size="6.80" text-anchor="end" fill="#111" font-weight="normal" stroke="#111" stroke-width="0.14" letter-spacing="0.35">50</text>
<text x="328.60" y="349.50" font-size="6.80" text-anchor="end" fill="#111" font-weight="normal" stroke="#111" stroke-width="0.14" letter-spacing="0.35">0</text>
<line x1="335.20" y1="347.10" x2="335.20" y2="351.80" stroke="#1a1a1a" stroke-width="1.30" />
<text x="335.20" y="360.40" font-size="6.80" text-anchor="middle" fill="#111" font-weight="normal" stroke="#111" stroke-width="0.14" letter-spacing="0.3">0</text>
<line x1="379.51" y1="347.10" x2="379.51" y2="351.80" stroke="#1a1a1a" stroke-width="1.30" />
<text x="379.51" y="360.40" font-size="6.80" text-anchor="middle" fill="#111" font-weight="normal" stroke="#111" stroke-width="0.14" letter-spacing="0.3">20</text>
<line x1="423.82" y1="347.10" x2="423.82" y2="351.80" stroke="#1a1a1a" stroke-width="1.30" />
<text x="423.82" y="360.40" font-size="6.80" text-anchor="middle" fill="#111" font-weight="normal" stroke="#111" stroke-width="0.14" letter-spacing="0.3">40</text>
<line x1="468.13" y1="347.10" x2="468.13" y2="351.80" stroke="#1a1a1a" stroke-width="1.30" />
<text x="468.13" y="360.40" font-size="6.80" text-anchor="middle" fill="#111" font-weight="normal" stroke="#111" stroke-width="0.14" letter-spacing="0.3">60</text>
<line x1="512.44" y1="347.10" x2="512.44" y2="351.80" stroke="#1a1a1a" stroke-width="1.30" />
<text x="512.44" y="360.40" font-size="6.80" text-anchor="middle" fill="#111" font-weight="normal" stroke="#111" stroke-width="0.14" letter-spacing="0.3">80</text>
<text transform="translate(424.0,374.6) scale(0.68,1)" font-size="8.3" font-weight="bold" text-anchor="middle" fill="#111">Days</text>
<text transform="translate(308.2,287.8) rotate(-90) scale(0.71,1)" font-size="8.2" font-weight="bold" text-anchor="middle" fill="#111">% of mice survival</text>
<polyline points="366.2,228.9 368.4,228.9 368.4,241.3 390.6,241.3 390.6,247.6 399.4,247.6 399.4,266.2 401.7,266.2 401.7,272.4 412.7,272.4 412.7,291.1 415.0,291.1 415.0,309.8 430.5,309.8 430.5,322.2 446.0,322.2 446.0,328.4 448.2,328.4 448.2,334.7 454.8,334.7 454.8,340.9 496.9,340.9 496.9,347.1" fill="none" stroke="#12508c" stroke-width="1.5" stroke-linejoin="miter"/>
<polyline points="335.2,228.9 415.0,228.9 415.0,242.0 443.8,242.0 443.8,255.2 446.0,255.2 446.0,294.6 461.5,294.6 461.5,307.7 481.4,307.7 481.4,334.0 512.4,334.0 512.4,347.1" fill="none" stroke="#c8142f" stroke-width="1.5" stroke-linejoin="miter"/>
<line x1="341.20" y1="320.80" x2="353.80" y2="320.80" stroke="#c8142f" stroke-width="1.60" />
<text x="357.00" y="323.40" font-size="7.00" text-anchor="start" fill="#c8142f" font-weight="normal" stroke="#c8142f" stroke-width="0.14" >BJAB Mock</text>
<line x1="341.20" y1="334.80" x2="353.80" y2="334.80" stroke="#12508c" stroke-width="1.60" />
<text x="357.00" y="337.40" font-size="7.00" text-anchor="start" fill="#12508c" font-weight="normal" stroke="#12508c" stroke-width="0.14" >BJAB HGAL KO</text>
</svg></body></html>
